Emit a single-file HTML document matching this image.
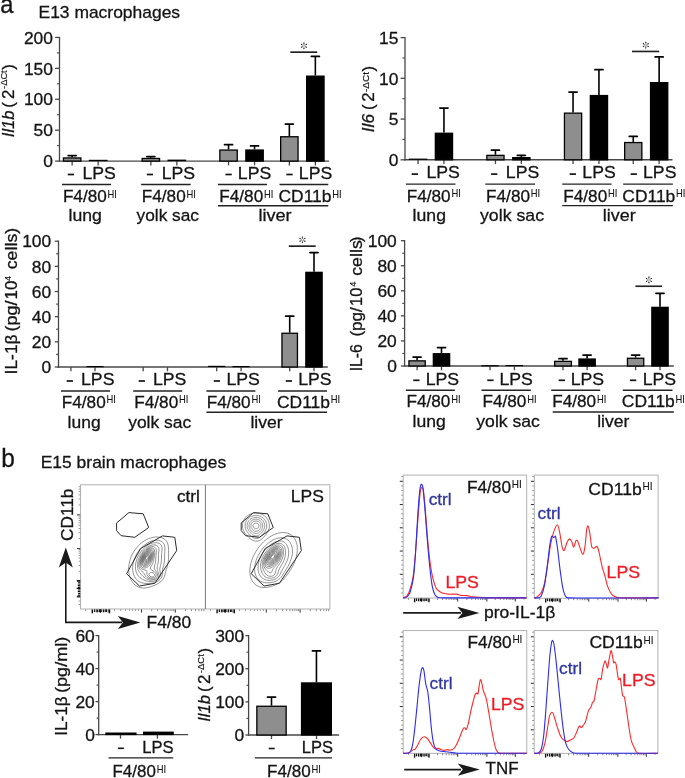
<!DOCTYPE html>
<html><head><meta charset="utf-8"><title>figure</title>
<style>
html,body{margin:0;padding:0;background:#fff;}
body{width:685px;height:778px;overflow:hidden;}
svg{display:block;font-family:"Liberation Sans",sans-serif;}
</style></head><body>
<svg width="685" height="778" viewBox="0 0 685 778">
<defs><filter id="ga" filterUnits="userSpaceOnUse" x="0" y="0" width="685" height="778"><feOffset dx="0" dy="0"/></filter></defs>
<rect x="0" y="0" width="685" height="778" fill="#ffffff"/>
<g filter="url(#ga)">

<text x="0.3" y="13.3" font-size="25" textLength="13.2" lengthAdjust="spacingAndGlyphs" fill="#141414" stroke="#141414" stroke-width="0.3">a</text>
<text x="38.5" y="17.5" font-size="17" textLength="141.6" lengthAdjust="spacingAndGlyphs" fill="#141414" stroke="#141414" stroke-width="0.3">E13 macrophages</text>
<line x1="58.85" y1="161.1" x2="329.0" y2="161.1" stroke="#484848" stroke-width="1.4" stroke-linecap="butt"/>
<line x1="59.5" y1="36.800000000000004" x2="59.5" y2="161.75" stroke="#484848" stroke-width="1.3" stroke-linecap="butt"/>
<line x1="55.1" y1="161.1" x2="59.5" y2="161.1" stroke="#484848" stroke-width="1.3" stroke-linecap="butt"/>
<text x="52.9" y="167.29999999999998" font-size="17.4" text-anchor="end" fill="#141414" stroke="#141414" stroke-width="0.3">0</text>
<line x1="56.9" y1="145.64374999999998" x2="59.5" y2="145.64374999999998" stroke="#484848" stroke-width="1.1" stroke-linecap="butt"/>
<line x1="55.1" y1="130.1875" x2="59.5" y2="130.1875" stroke="#484848" stroke-width="1.3" stroke-linecap="butt"/>
<text x="52.9" y="136.3875" font-size="17.4" text-anchor="end" fill="#141414" stroke="#141414" stroke-width="0.3">50</text>
<line x1="56.9" y1="114.73125" x2="59.5" y2="114.73125" stroke="#484848" stroke-width="1.1" stroke-linecap="butt"/>
<line x1="55.1" y1="99.275" x2="59.5" y2="99.275" stroke="#484848" stroke-width="1.3" stroke-linecap="butt"/>
<text x="52.9" y="105.47500000000001" font-size="17.4" text-anchor="end" fill="#141414" stroke="#141414" stroke-width="0.3">100</text>
<line x1="56.9" y1="83.81875000000001" x2="59.5" y2="83.81875000000001" stroke="#484848" stroke-width="1.1" stroke-linecap="butt"/>
<line x1="55.1" y1="68.3625" x2="59.5" y2="68.3625" stroke="#484848" stroke-width="1.3" stroke-linecap="butt"/>
<text x="52.9" y="74.5625" font-size="17.4" text-anchor="end" fill="#141414" stroke="#141414" stroke-width="0.3">150</text>
<line x1="56.9" y1="52.90625" x2="59.5" y2="52.90625" stroke="#484848" stroke-width="1.1" stroke-linecap="butt"/>
<line x1="55.1" y1="37.45" x2="59.5" y2="37.45" stroke="#484848" stroke-width="1.3" stroke-linecap="butt"/>
<text x="52.9" y="43.650000000000006" font-size="17.4" text-anchor="end" fill="#141414" stroke="#141414" stroke-width="0.3">200</text>
<line x1="72.14999999999999" y1="161.1" x2="72.14999999999999" y2="165.4" stroke="#484848" stroke-width="1.3" stroke-linecap="butt"/>
<line x1="72.15" y1="157.3" x2="72.15" y2="155.6" stroke="#000" stroke-width="1.6" stroke-linecap="butt"/>
<line x1="68.15" y1="155.6" x2="76.15" y2="155.6" stroke="#000" stroke-width="1.75" stroke-linecap="round"/>
<rect x="63.45" y="157.95" width="17.40" height="3.15" fill="#8e8e8e" stroke="#000" stroke-width="1.3"/>
<line x1="98.14999999999999" y1="161.1" x2="98.14999999999999" y2="165.4" stroke="#484848" stroke-width="1.3" stroke-linecap="butt"/>
<rect x="88.80" y="159.80" width="18.70" height="1.30" fill="#000"/>
<line x1="150.85" y1="161.1" x2="150.85" y2="165.4" stroke="#484848" stroke-width="1.3" stroke-linecap="butt"/>
<line x1="150.85" y1="157.8" x2="150.85" y2="156.6" stroke="#000" stroke-width="1.6" stroke-linecap="butt"/>
<line x1="146.85" y1="156.6" x2="154.85" y2="156.6" stroke="#000" stroke-width="1.75" stroke-linecap="round"/>
<rect x="142.15" y="158.45" width="17.40" height="2.65" fill="#8e8e8e" stroke="#000" stroke-width="1.3"/>
<line x1="176.85" y1="161.1" x2="176.85" y2="165.4" stroke="#484848" stroke-width="1.3" stroke-linecap="butt"/>
<rect x="167.50" y="159.60" width="18.70" height="1.50" fill="#000"/>
<line x1="228.54999999999998" y1="161.1" x2="228.54999999999998" y2="165.4" stroke="#484848" stroke-width="1.3" stroke-linecap="butt"/>
<line x1="228.54999999999998" y1="149.4" x2="228.54999999999998" y2="144.7" stroke="#000" stroke-width="1.6" stroke-linecap="butt"/>
<line x1="224.54999999999998" y1="144.7" x2="232.54999999999998" y2="144.7" stroke="#000" stroke-width="1.75" stroke-linecap="round"/>
<rect x="219.85" y="150.05" width="17.40" height="11.05" fill="#8e8e8e" stroke="#000" stroke-width="1.3"/>
<line x1="254.54999999999998" y1="161.1" x2="254.54999999999998" y2="165.4" stroke="#484848" stroke-width="1.3" stroke-linecap="butt"/>
<line x1="254.54999999999998" y1="149.4" x2="254.54999999999998" y2="145.9" stroke="#000" stroke-width="1.6" stroke-linecap="butt"/>
<line x1="250.54999999999998" y1="145.9" x2="258.54999999999995" y2="145.9" stroke="#000" stroke-width="1.75" stroke-linecap="round"/>
<rect x="245.85" y="150.05" width="17.40" height="11.05" fill="#000" stroke="#000" stroke-width="1.3"/>
<line x1="289.35" y1="161.1" x2="289.35" y2="165.4" stroke="#484848" stroke-width="1.3" stroke-linecap="butt"/>
<line x1="289.35" y1="136.1" x2="289.35" y2="124.1" stroke="#000" stroke-width="1.6" stroke-linecap="butt"/>
<line x1="285.35" y1="124.1" x2="293.35" y2="124.1" stroke="#000" stroke-width="1.75" stroke-linecap="round"/>
<rect x="280.65" y="136.75" width="17.40" height="24.35" fill="#8e8e8e" stroke="#000" stroke-width="1.3"/>
<line x1="315.35" y1="161.1" x2="315.35" y2="165.4" stroke="#484848" stroke-width="1.3" stroke-linecap="butt"/>
<line x1="315.35" y1="75.5" x2="315.35" y2="56.4" stroke="#000" stroke-width="1.6" stroke-linecap="butt"/>
<line x1="311.35" y1="56.4" x2="319.35" y2="56.4" stroke="#000" stroke-width="1.75" stroke-linecap="round"/>
<rect x="306.65" y="76.15" width="17.40" height="84.95" fill="#000" stroke="#000" stroke-width="1.3"/>
<line x1="290.3" y1="52.15" x2="317.2" y2="52.15" stroke="#222" stroke-width="1.65" stroke-linecap="butt"/>
<line x1="303.95" y1="45.10" x2="303.95" y2="42.50" stroke="#222" stroke-width="0.55" stroke-linecap="butt"/>
<circle cx="303.95" cy="43.05" r="0.62" fill="#222"/>
<line x1="303.34" y1="45.45" x2="301.09" y2="44.15" stroke="#222" stroke-width="0.55" stroke-linecap="butt"/>
<circle cx="301.57" cy="44.42" r="0.62" fill="#222"/>
<line x1="303.34" y1="46.15" x2="301.09" y2="47.45" stroke="#222" stroke-width="0.55" stroke-linecap="butt"/>
<circle cx="301.57" cy="47.17" r="0.62" fill="#222"/>
<line x1="303.95" y1="46.50" x2="303.95" y2="49.10" stroke="#222" stroke-width="0.55" stroke-linecap="butt"/>
<circle cx="303.95" cy="48.55" r="0.62" fill="#222"/>
<line x1="304.56" y1="46.15" x2="306.81" y2="47.45" stroke="#222" stroke-width="0.55" stroke-linecap="butt"/>
<circle cx="306.33" cy="47.17" r="0.62" fill="#222"/>
<line x1="304.56" y1="45.45" x2="306.81" y2="44.15" stroke="#222" stroke-width="0.55" stroke-linecap="butt"/>
<circle cx="306.33" cy="44.42" r="0.62" fill="#222"/>
<line x1="67.75" y1="174.5" x2="74.05000000000001" y2="174.5" stroke="#141414" stroke-width="1.7" stroke-linecap="butt"/>
<line x1="146.79999999999998" y1="174.5" x2="153.1" y2="174.5" stroke="#141414" stroke-width="1.7" stroke-linecap="butt"/>
<line x1="225.45" y1="174.5" x2="231.75" y2="174.5" stroke="#141414" stroke-width="1.7" stroke-linecap="butt"/>
<line x1="286.35" y1="174.5" x2="292.65" y2="174.5" stroke="#141414" stroke-width="1.7" stroke-linecap="butt"/>
<text x="99.2" y="178.8" font-size="17.4" text-anchor="middle" textLength="33.4" lengthAdjust="spacingAndGlyphs" fill="#141414" stroke="#141414" stroke-width="0.3">LPS</text>
<text x="178.35" y="178.8" font-size="17.4" text-anchor="middle" textLength="33.4" lengthAdjust="spacingAndGlyphs" fill="#141414" stroke="#141414" stroke-width="0.3">LPS</text>
<text x="254.55" y="178.8" font-size="17.4" text-anchor="middle" textLength="33.4" lengthAdjust="spacingAndGlyphs" fill="#141414" stroke="#141414" stroke-width="0.3">LPS</text>
<text x="315.55" y="178.8" font-size="17.4" text-anchor="middle" textLength="33.4" lengthAdjust="spacingAndGlyphs" fill="#141414" stroke="#141414" stroke-width="0.3">LPS</text>
<line x1="62.0" y1="184.4" x2="111.1" y2="184.4" stroke="#222" stroke-width="1.45" stroke-linecap="butt"/>
<line x1="141.1" y1="184.4" x2="190.7" y2="184.4" stroke="#222" stroke-width="1.45" stroke-linecap="butt"/>
<line x1="218.0" y1="184.4" x2="267.0" y2="184.4" stroke="#222" stroke-width="1.45" stroke-linecap="butt"/>
<line x1="279.5" y1="184.4" x2="328.3" y2="184.4" stroke="#222" stroke-width="1.45" stroke-linecap="butt"/>
<text x="62.9" y="202.0" font-size="17.3" textLength="43.900000000000006" lengthAdjust="spacingAndGlyphs" fill="#141414" stroke="#141414" stroke-width="0.3">F4/80</text>
<text x="107.60000000000001" y="197.6" font-size="10.3" textLength="9.4" lengthAdjust="spacingAndGlyphs" fill="#141414" stroke="#141414" stroke-width="0.1">HI</text>
<text x="141.8" y="202.0" font-size="17.3" textLength="43.900000000000006" lengthAdjust="spacingAndGlyphs" fill="#141414" stroke="#141414" stroke-width="0.3">F4/80</text>
<text x="186.50000000000003" y="197.6" font-size="10.3" textLength="9.4" lengthAdjust="spacingAndGlyphs" fill="#141414" stroke="#141414" stroke-width="0.1">HI</text>
<text x="219.3" y="202.0" font-size="17.3" textLength="43.900000000000006" lengthAdjust="spacingAndGlyphs" fill="#141414" stroke="#141414" stroke-width="0.3">F4/80</text>
<text x="264.00000000000006" y="197.6" font-size="10.3" textLength="9.4" lengthAdjust="spacingAndGlyphs" fill="#141414" stroke="#141414" stroke-width="0.1">HI</text>
<text x="278.5" y="202.0" font-size="17.3" textLength="53.0" lengthAdjust="spacingAndGlyphs" fill="#141414" stroke="#141414" stroke-width="0.3">CD11b</text>
<text x="332.3" y="197.6" font-size="10.3" textLength="9.4" lengthAdjust="spacingAndGlyphs" fill="#141414" stroke="#141414" stroke-width="0.1">HI</text>
<line x1="218.0" y1="205.7" x2="328.3" y2="205.7" stroke="#222" stroke-width="1.45" stroke-linecap="butt"/>
<text x="68.5" y="221.4" font-size="17.2" textLength="33.4" lengthAdjust="spacingAndGlyphs" fill="#141414" stroke="#141414" stroke-width="0.3">lung</text>
<text x="136.6" y="221.4" font-size="17.2" textLength="62.4" lengthAdjust="spacingAndGlyphs" fill="#141414" stroke="#141414" stroke-width="0.3">yolk sac</text>
<text x="258.4" y="221.4" font-size="17.2" textLength="33.2" lengthAdjust="spacingAndGlyphs" fill="#141414" stroke="#141414" stroke-width="0.3">liver</text>
<text transform="translate(13.6,137.2) rotate(-90)" font-size="16.8" textLength="26.8" lengthAdjust="spacingAndGlyphs" font-style="italic" fill="#141414" stroke="#141414" stroke-width="0.3">Il1b</text>
<text transform="translate(13.6,107.8) rotate(-90)" font-size="16.8" fill="#141414" stroke="#141414" stroke-width="0.3">(</text>
<text transform="translate(13.6,99.1) rotate(-90)" font-size="16.8" fill="#141414" stroke="#141414" stroke-width="0.3">2</text>
<text transform="translate(7.0,88.9) rotate(-90)" font-size="8.3" textLength="18.6" lengthAdjust="spacingAndGlyphs" fill="#141414" stroke="#141414" stroke-width="0.15">-ΔCt</text>
<text transform="translate(13.6,69.8) rotate(-90)" font-size="16.8" fill="#141414" stroke="#141414" stroke-width="0.3">)</text>
<line x1="404.35" y1="159.8" x2="672.5" y2="159.8" stroke="#484848" stroke-width="1.4" stroke-linecap="butt"/>
<line x1="405.0" y1="36.95" x2="405.0" y2="160.45000000000002" stroke="#484848" stroke-width="1.3" stroke-linecap="butt"/>
<line x1="400.6" y1="159.8" x2="405.0" y2="159.8" stroke="#484848" stroke-width="1.3" stroke-linecap="butt"/>
<text x="398.4" y="166.0" font-size="17.4" text-anchor="end" fill="#141414" stroke="#141414" stroke-width="0.3">0</text>
<line x1="402.4" y1="139.43333333333334" x2="405.0" y2="139.43333333333334" stroke="#484848" stroke-width="1.1" stroke-linecap="butt"/>
<line x1="400.6" y1="119.06666666666666" x2="405.0" y2="119.06666666666666" stroke="#484848" stroke-width="1.3" stroke-linecap="butt"/>
<text x="398.4" y="125.26666666666667" font-size="17.4" text-anchor="end" fill="#141414" stroke="#141414" stroke-width="0.3">5</text>
<line x1="402.4" y1="98.69999999999999" x2="405.0" y2="98.69999999999999" stroke="#484848" stroke-width="1.1" stroke-linecap="butt"/>
<line x1="400.6" y1="78.33333333333333" x2="405.0" y2="78.33333333333333" stroke="#484848" stroke-width="1.3" stroke-linecap="butt"/>
<text x="398.4" y="84.53333333333333" font-size="17.4" text-anchor="end" fill="#141414" stroke="#141414" stroke-width="0.3">10</text>
<line x1="402.4" y1="57.966666666666654" x2="405.0" y2="57.966666666666654" stroke="#484848" stroke-width="1.1" stroke-linecap="butt"/>
<line x1="400.6" y1="37.599999999999994" x2="405.0" y2="37.599999999999994" stroke="#484848" stroke-width="1.3" stroke-linecap="butt"/>
<text x="398.4" y="43.8" font-size="17.4" text-anchor="end" fill="#141414" stroke="#141414" stroke-width="0.3">15</text>
<line x1="418.05" y1="159.8" x2="418.05" y2="164.10000000000002" stroke="#484848" stroke-width="1.3" stroke-linecap="butt"/>
<rect x="408.80" y="158.60" width="18.50" height="1.20" fill="#000"/>
<line x1="443.95" y1="159.8" x2="443.95" y2="164.10000000000002" stroke="#484848" stroke-width="1.3" stroke-linecap="butt"/>
<line x1="443.95" y1="132.6" x2="443.95" y2="108.0" stroke="#000" stroke-width="1.6" stroke-linecap="butt"/>
<line x1="439.95" y1="108.0" x2="447.95" y2="108.0" stroke="#000" stroke-width="1.75" stroke-linecap="round"/>
<rect x="435.35" y="133.25" width="17.20" height="26.55" fill="#000" stroke="#000" stroke-width="1.3"/>
<line x1="495.45" y1="159.8" x2="495.45" y2="164.10000000000002" stroke="#484848" stroke-width="1.3" stroke-linecap="butt"/>
<line x1="495.45" y1="154.7" x2="495.45" y2="150.2" stroke="#000" stroke-width="1.6" stroke-linecap="butt"/>
<line x1="491.45" y1="150.2" x2="499.45" y2="150.2" stroke="#000" stroke-width="1.75" stroke-linecap="round"/>
<rect x="486.85" y="155.35" width="17.20" height="4.45" fill="#8e8e8e" stroke="#000" stroke-width="1.3"/>
<line x1="521.35" y1="159.8" x2="521.35" y2="164.10000000000002" stroke="#484848" stroke-width="1.3" stroke-linecap="butt"/>
<line x1="521.35" y1="157.0" x2="521.35" y2="155.4" stroke="#000" stroke-width="1.6" stroke-linecap="butt"/>
<line x1="517.35" y1="155.4" x2="525.35" y2="155.4" stroke="#000" stroke-width="1.75" stroke-linecap="round"/>
<rect x="512.75" y="157.65" width="17.20" height="2.15" fill="#000" stroke="#000" stroke-width="1.3"/>
<line x1="573.05" y1="159.8" x2="573.05" y2="164.10000000000002" stroke="#484848" stroke-width="1.3" stroke-linecap="butt"/>
<line x1="573.05" y1="112.5" x2="573.05" y2="92.1" stroke="#000" stroke-width="1.6" stroke-linecap="butt"/>
<line x1="569.05" y1="92.1" x2="577.05" y2="92.1" stroke="#000" stroke-width="1.75" stroke-linecap="round"/>
<rect x="564.45" y="113.15" width="17.20" height="46.65" fill="#8e8e8e" stroke="#000" stroke-width="1.3"/>
<line x1="598.9499999999999" y1="159.8" x2="598.9499999999999" y2="164.10000000000002" stroke="#484848" stroke-width="1.3" stroke-linecap="butt"/>
<line x1="598.9499999999999" y1="94.9" x2="598.9499999999999" y2="69.7" stroke="#000" stroke-width="1.6" stroke-linecap="butt"/>
<line x1="594.9499999999999" y1="69.7" x2="602.9499999999999" y2="69.7" stroke="#000" stroke-width="1.75" stroke-linecap="round"/>
<rect x="590.35" y="95.55" width="17.20" height="64.25" fill="#000" stroke="#000" stroke-width="1.3"/>
<line x1="633.25" y1="159.8" x2="633.25" y2="164.10000000000002" stroke="#484848" stroke-width="1.3" stroke-linecap="butt"/>
<line x1="633.25" y1="141.9" x2="633.25" y2="136.4" stroke="#000" stroke-width="1.6" stroke-linecap="butt"/>
<line x1="629.25" y1="136.4" x2="637.25" y2="136.4" stroke="#000" stroke-width="1.75" stroke-linecap="round"/>
<rect x="624.65" y="142.55" width="17.20" height="17.25" fill="#8e8e8e" stroke="#000" stroke-width="1.3"/>
<line x1="659.15" y1="159.8" x2="659.15" y2="164.10000000000002" stroke="#484848" stroke-width="1.3" stroke-linecap="butt"/>
<line x1="659.15" y1="82.0" x2="659.15" y2="56.9" stroke="#000" stroke-width="1.6" stroke-linecap="butt"/>
<line x1="655.15" y1="56.9" x2="663.15" y2="56.9" stroke="#000" stroke-width="1.75" stroke-linecap="round"/>
<rect x="650.55" y="82.65" width="17.20" height="77.15" fill="#000" stroke="#000" stroke-width="1.3"/>
<line x1="632.0" y1="51.45" x2="659.2" y2="51.45" stroke="#222" stroke-width="1.65" stroke-linecap="butt"/>
<line x1="645.80" y1="44.40" x2="645.80" y2="41.80" stroke="#222" stroke-width="0.55" stroke-linecap="butt"/>
<circle cx="645.80" cy="42.35" r="0.62" fill="#222"/>
<line x1="645.19" y1="44.75" x2="642.94" y2="43.45" stroke="#222" stroke-width="0.55" stroke-linecap="butt"/>
<circle cx="643.42" cy="43.73" r="0.62" fill="#222"/>
<line x1="645.19" y1="45.45" x2="642.94" y2="46.75" stroke="#222" stroke-width="0.55" stroke-linecap="butt"/>
<circle cx="643.42" cy="46.48" r="0.62" fill="#222"/>
<line x1="645.80" y1="45.80" x2="645.80" y2="48.40" stroke="#222" stroke-width="0.55" stroke-linecap="butt"/>
<circle cx="645.80" cy="47.85" r="0.62" fill="#222"/>
<line x1="646.41" y1="45.45" x2="648.66" y2="46.75" stroke="#222" stroke-width="0.55" stroke-linecap="butt"/>
<circle cx="648.18" cy="46.48" r="0.62" fill="#222"/>
<line x1="646.41" y1="44.75" x2="648.66" y2="43.45" stroke="#222" stroke-width="0.55" stroke-linecap="butt"/>
<circle cx="648.18" cy="43.73" r="0.62" fill="#222"/>
<line x1="411.65000000000003" y1="174.1" x2="417.95" y2="174.1" stroke="#141414" stroke-width="1.7" stroke-linecap="butt"/>
<line x1="491.05" y1="174.1" x2="497.34999999999997" y2="174.1" stroke="#141414" stroke-width="1.7" stroke-linecap="butt"/>
<line x1="569.65" y1="174.1" x2="575.9499999999999" y2="174.1" stroke="#141414" stroke-width="1.7" stroke-linecap="butt"/>
<line x1="630.65" y1="174.1" x2="636.9499999999999" y2="174.1" stroke="#141414" stroke-width="1.7" stroke-linecap="butt"/>
<text x="443.15" y="178.4" font-size="17.4" text-anchor="middle" textLength="33.4" lengthAdjust="spacingAndGlyphs" fill="#141414" stroke="#141414" stroke-width="0.3">LPS</text>
<text x="522.55" y="178.4" font-size="17.4" text-anchor="middle" textLength="33.4" lengthAdjust="spacingAndGlyphs" fill="#141414" stroke="#141414" stroke-width="0.3">LPS</text>
<text x="599.05" y="178.4" font-size="17.4" text-anchor="middle" textLength="33.4" lengthAdjust="spacingAndGlyphs" fill="#141414" stroke="#141414" stroke-width="0.3">LPS</text>
<text x="659.75" y="178.4" font-size="17.4" text-anchor="middle" textLength="33.4" lengthAdjust="spacingAndGlyphs" fill="#141414" stroke="#141414" stroke-width="0.3">LPS</text>
<line x1="405.9" y1="184.1" x2="455.5" y2="184.1" stroke="#222" stroke-width="1.45" stroke-linecap="butt"/>
<line x1="485.3" y1="184.1" x2="535.0" y2="184.1" stroke="#222" stroke-width="1.45" stroke-linecap="butt"/>
<line x1="562.2" y1="184.1" x2="611.5" y2="184.1" stroke="#222" stroke-width="1.45" stroke-linecap="butt"/>
<line x1="623.2" y1="184.1" x2="672.9" y2="184.1" stroke="#222" stroke-width="1.45" stroke-linecap="butt"/>
<text x="406.7" y="201.6" font-size="17.3" textLength="43.900000000000006" lengthAdjust="spacingAndGlyphs" fill="#141414" stroke="#141414" stroke-width="0.3">F4/80</text>
<text x="451.40000000000003" y="197.2" font-size="10.3" textLength="9.4" lengthAdjust="spacingAndGlyphs" fill="#141414" stroke="#141414" stroke-width="0.1">HI</text>
<text x="486.1" y="201.6" font-size="17.3" textLength="43.900000000000006" lengthAdjust="spacingAndGlyphs" fill="#141414" stroke="#141414" stroke-width="0.3">F4/80</text>
<text x="530.8" y="197.2" font-size="10.3" textLength="9.4" lengthAdjust="spacingAndGlyphs" fill="#141414" stroke="#141414" stroke-width="0.1">HI</text>
<text x="563.3" y="201.6" font-size="17.3" textLength="43.900000000000006" lengthAdjust="spacingAndGlyphs" fill="#141414" stroke="#141414" stroke-width="0.3">F4/80</text>
<text x="607.9999999999999" y="197.2" font-size="10.3" textLength="9.4" lengthAdjust="spacingAndGlyphs" fill="#141414" stroke="#141414" stroke-width="0.1">HI</text>
<text x="622.3" y="201.6" font-size="17.3" textLength="53.0" lengthAdjust="spacingAndGlyphs" fill="#141414" stroke="#141414" stroke-width="0.3">CD11b</text>
<text x="676.0999999999999" y="197.2" font-size="10.3" textLength="9.4" lengthAdjust="spacingAndGlyphs" fill="#141414" stroke="#141414" stroke-width="0.1">HI</text>
<line x1="562.2" y1="205.6" x2="672.9" y2="205.6" stroke="#222" stroke-width="1.45" stroke-linecap="butt"/>
<text x="412.6" y="221.0" font-size="17.2" textLength="33.4" lengthAdjust="spacingAndGlyphs" fill="#141414" stroke="#141414" stroke-width="0.3">lung</text>
<text x="480.0" y="221.0" font-size="17.2" textLength="64.0" lengthAdjust="spacingAndGlyphs" fill="#141414" stroke="#141414" stroke-width="0.3">yolk sac</text>
<text x="602.8" y="221.0" font-size="17.2" textLength="32.8" lengthAdjust="spacingAndGlyphs" fill="#141414" stroke="#141414" stroke-width="0.3">liver</text>
<text transform="translate(373.9,132.2) rotate(-90)" font-size="16.8" textLength="18.2" lengthAdjust="spacingAndGlyphs" font-style="italic" fill="#141414" stroke="#141414" stroke-width="0.3">Il6</text>
<text transform="translate(373.9,109.9) rotate(-90)" font-size="16.8" fill="#141414" stroke="#141414" stroke-width="0.3">(</text>
<text transform="translate(373.9,101.8) rotate(-90)" font-size="16.8" fill="#141414" stroke="#141414" stroke-width="0.3">2</text>
<text transform="translate(368.6,92.0) rotate(-90)" font-size="8.5" textLength="20.0" lengthAdjust="spacingAndGlyphs" fill="#141414" stroke="#141414" stroke-width="0.15">-ΔCt</text>
<text transform="translate(373.9,71.4) rotate(-90)" font-size="16.8" fill="#141414" stroke="#141414" stroke-width="0.3">)</text>
<line x1="57.85" y1="367.0" x2="327.8" y2="367.0" stroke="#484848" stroke-width="1.4" stroke-linecap="butt"/>
<line x1="58.5" y1="240.54999999999998" x2="58.5" y2="367.65" stroke="#484848" stroke-width="1.3" stroke-linecap="butt"/>
<line x1="54.8" y1="367.0" x2="58.5" y2="367.0" stroke="#484848" stroke-width="1.3" stroke-linecap="butt"/>
<text x="51.2" y="373.2" font-size="17.4" text-anchor="end" fill="#141414" stroke="#141414" stroke-width="0.3">0</text>
<line x1="56.1" y1="354.42" x2="58.5" y2="354.42" stroke="#484848" stroke-width="1.1" stroke-linecap="butt"/>
<line x1="54.8" y1="341.84" x2="58.5" y2="341.84" stroke="#484848" stroke-width="1.3" stroke-linecap="butt"/>
<text x="51.2" y="348.03999999999996" font-size="17.4" text-anchor="end" fill="#141414" stroke="#141414" stroke-width="0.3">20</text>
<line x1="56.1" y1="329.26" x2="58.5" y2="329.26" stroke="#484848" stroke-width="1.1" stroke-linecap="butt"/>
<line x1="54.8" y1="316.68" x2="58.5" y2="316.68" stroke="#484848" stroke-width="1.3" stroke-linecap="butt"/>
<text x="51.2" y="322.88" font-size="17.4" text-anchor="end" fill="#141414" stroke="#141414" stroke-width="0.3">40</text>
<line x1="56.1" y1="304.1" x2="58.5" y2="304.1" stroke="#484848" stroke-width="1.1" stroke-linecap="butt"/>
<line x1="54.8" y1="291.52" x2="58.5" y2="291.52" stroke="#484848" stroke-width="1.3" stroke-linecap="butt"/>
<text x="51.2" y="297.71999999999997" font-size="17.4" text-anchor="end" fill="#141414" stroke="#141414" stroke-width="0.3">60</text>
<line x1="56.1" y1="278.94" x2="58.5" y2="278.94" stroke="#484848" stroke-width="1.1" stroke-linecap="butt"/>
<line x1="54.8" y1="266.36" x2="58.5" y2="266.36" stroke="#484848" stroke-width="1.3" stroke-linecap="butt"/>
<text x="51.2" y="272.56" font-size="17.4" text-anchor="end" fill="#141414" stroke="#141414" stroke-width="0.3">80</text>
<line x1="56.1" y1="253.78" x2="58.5" y2="253.78" stroke="#484848" stroke-width="1.1" stroke-linecap="butt"/>
<line x1="54.8" y1="241.2" x2="58.5" y2="241.2" stroke="#484848" stroke-width="1.3" stroke-linecap="butt"/>
<text x="51.2" y="247.39999999999998" font-size="17.4" text-anchor="end" fill="#141414" stroke="#141414" stroke-width="0.3">100</text>
<line x1="70.9" y1="367.0" x2="70.9" y2="371.3" stroke="#484848" stroke-width="1.3" stroke-linecap="butt"/>
<line x1="95.0" y1="367.0" x2="95.0" y2="371.3" stroke="#484848" stroke-width="1.3" stroke-linecap="butt"/>
<line x1="143.2" y1="367.0" x2="143.2" y2="371.3" stroke="#484848" stroke-width="1.3" stroke-linecap="butt"/>
<line x1="167.5" y1="367.0" x2="167.5" y2="371.3" stroke="#484848" stroke-width="1.3" stroke-linecap="butt"/>
<line x1="216.7" y1="367.0" x2="216.7" y2="371.3" stroke="#484848" stroke-width="1.3" stroke-linecap="butt"/>
<line x1="241.1" y1="367.0" x2="241.1" y2="371.3" stroke="#484848" stroke-width="1.3" stroke-linecap="butt"/>
<line x1="289.7" y1="367.0" x2="289.7" y2="371.3" stroke="#484848" stroke-width="1.3" stroke-linecap="butt"/>
<line x1="314.0" y1="367.0" x2="314.0" y2="371.3" stroke="#484848" stroke-width="1.3" stroke-linecap="butt"/>
<rect x="86.40" y="366.00" width="17.20" height="1.20" fill="#000"/>
<rect x="208.10" y="365.80" width="17.20" height="1.20" fill="#000"/>
<rect x="232.50" y="366.00" width="17.20" height="1.20" fill="#000"/>
<line x1="289.70000000000005" y1="332.6" x2="289.70000000000005" y2="316.2" stroke="#000" stroke-width="1.6" stroke-linecap="butt"/>
<line x1="285.70000000000005" y1="316.2" x2="293.70000000000005" y2="316.2" stroke="#000" stroke-width="1.75" stroke-linecap="round"/>
<rect x="281.95" y="333.25" width="15.50" height="33.75" fill="#8e8e8e" stroke="#000" stroke-width="1.3"/>
<line x1="314.0" y1="271.7" x2="314.0" y2="252.6" stroke="#000" stroke-width="1.6" stroke-linecap="butt"/>
<line x1="310.0" y1="252.6" x2="318.0" y2="252.6" stroke="#000" stroke-width="1.75" stroke-linecap="round"/>
<rect x="305.85" y="272.35" width="16.30" height="94.65" fill="#000" stroke="#000" stroke-width="1.3"/>
<line x1="288.8" y1="246.15" x2="315.7" y2="246.15" stroke="#222" stroke-width="1.65" stroke-linecap="butt"/>
<line x1="302.45" y1="239.10" x2="302.45" y2="236.50" stroke="#222" stroke-width="0.55" stroke-linecap="butt"/>
<circle cx="302.45" cy="237.05" r="0.62" fill="#222"/>
<line x1="301.84" y1="239.45" x2="299.59" y2="238.15" stroke="#222" stroke-width="0.55" stroke-linecap="butt"/>
<circle cx="300.07" cy="238.43" r="0.62" fill="#222"/>
<line x1="301.84" y1="240.15" x2="299.59" y2="241.45" stroke="#222" stroke-width="0.55" stroke-linecap="butt"/>
<circle cx="300.07" cy="241.18" r="0.62" fill="#222"/>
<line x1="302.45" y1="240.50" x2="302.45" y2="243.10" stroke="#222" stroke-width="0.55" stroke-linecap="butt"/>
<circle cx="302.45" cy="242.55" r="0.62" fill="#222"/>
<line x1="303.06" y1="240.15" x2="305.31" y2="241.45" stroke="#222" stroke-width="0.55" stroke-linecap="butt"/>
<circle cx="304.83" cy="241.18" r="0.62" fill="#222"/>
<line x1="303.06" y1="239.45" x2="305.31" y2="238.15" stroke="#222" stroke-width="0.55" stroke-linecap="butt"/>
<circle cx="304.83" cy="238.43" r="0.62" fill="#222"/>
<line x1="66.64999999999999" y1="381.0" x2="72.95" y2="381.0" stroke="#141414" stroke-width="1.7" stroke-linecap="butt"/>
<line x1="138.65" y1="381.0" x2="144.95000000000002" y2="381.0" stroke="#141414" stroke-width="1.7" stroke-linecap="butt"/>
<line x1="213.75" y1="381.0" x2="220.05" y2="381.0" stroke="#141414" stroke-width="1.7" stroke-linecap="butt"/>
<line x1="285.75" y1="381.0" x2="292.04999999999995" y2="381.0" stroke="#141414" stroke-width="1.7" stroke-linecap="butt"/>
<text x="97.72" y="385.3" font-size="17.4" text-anchor="middle" textLength="33.4" lengthAdjust="spacingAndGlyphs" fill="#141414" stroke="#141414" stroke-width="0.3">LPS</text>
<text x="169.65" y="385.3" font-size="17.4" text-anchor="middle" textLength="33.4" lengthAdjust="spacingAndGlyphs" fill="#141414" stroke="#141414" stroke-width="0.3">LPS</text>
<text x="243.15" y="385.3" font-size="17.4" text-anchor="middle" textLength="33.4" lengthAdjust="spacingAndGlyphs" fill="#141414" stroke="#141414" stroke-width="0.3">LPS</text>
<text x="314.95" y="385.3" font-size="17.4" text-anchor="middle" textLength="33.4" lengthAdjust="spacingAndGlyphs" fill="#141414" stroke="#141414" stroke-width="0.3">LPS</text>
<line x1="61.0" y1="391.0" x2="110.0" y2="391.0" stroke="#222" stroke-width="1.45" stroke-linecap="butt"/>
<line x1="133.2" y1="391.0" x2="182.2" y2="391.0" stroke="#222" stroke-width="1.45" stroke-linecap="butt"/>
<line x1="206.4" y1="391.0" x2="255.4" y2="391.0" stroke="#222" stroke-width="1.45" stroke-linecap="butt"/>
<line x1="278.0" y1="391.0" x2="327.0" y2="391.0" stroke="#222" stroke-width="1.45" stroke-linecap="butt"/>
<text x="61.8" y="407.6" font-size="17.3" textLength="43.900000000000006" lengthAdjust="spacingAndGlyphs" fill="#141414" stroke="#141414" stroke-width="0.3">F4/80</text>
<text x="106.5" y="403.20000000000005" font-size="10.3" textLength="9.4" lengthAdjust="spacingAndGlyphs" fill="#141414" stroke="#141414" stroke-width="0.1">HI</text>
<text x="134.3" y="407.6" font-size="17.3" textLength="43.900000000000006" lengthAdjust="spacingAndGlyphs" fill="#141414" stroke="#141414" stroke-width="0.3">F4/80</text>
<text x="179.00000000000003" y="403.20000000000005" font-size="10.3" textLength="9.4" lengthAdjust="spacingAndGlyphs" fill="#141414" stroke="#141414" stroke-width="0.1">HI</text>
<text x="206.7" y="407.6" font-size="17.3" textLength="43.900000000000006" lengthAdjust="spacingAndGlyphs" fill="#141414" stroke="#141414" stroke-width="0.3">F4/80</text>
<text x="251.4" y="403.20000000000005" font-size="10.3" textLength="9.4" lengthAdjust="spacingAndGlyphs" fill="#141414" stroke="#141414" stroke-width="0.1">HI</text>
<text x="277.0" y="407.6" font-size="17.3" textLength="53.0" lengthAdjust="spacingAndGlyphs" fill="#141414" stroke="#141414" stroke-width="0.3">CD11b</text>
<text x="330.8" y="403.20000000000005" font-size="10.3" textLength="9.4" lengthAdjust="spacingAndGlyphs" fill="#141414" stroke="#141414" stroke-width="0.1">HI</text>
<line x1="206.4" y1="412.3" x2="327.0" y2="412.3" stroke="#222" stroke-width="1.45" stroke-linecap="butt"/>
<text x="67.6" y="427.5" font-size="17.2" textLength="33.0" lengthAdjust="spacingAndGlyphs" fill="#141414" stroke="#141414" stroke-width="0.3">lung</text>
<text x="128.2" y="427.5" font-size="17.2" textLength="63.0" lengthAdjust="spacingAndGlyphs" fill="#141414" stroke="#141414" stroke-width="0.3">yolk sac</text>
<text x="250.4" y="427.5" font-size="17.2" textLength="32.2" lengthAdjust="spacingAndGlyphs" fill="#141414" stroke="#141414" stroke-width="0.3">liver</text>
<text transform="translate(17.0,374.4) rotate(-90)" font-size="16.5" textLength="40.0" lengthAdjust="spacingAndGlyphs" fill="#141414" stroke="#141414" stroke-width="0.3">IL-1β</text>
<text transform="translate(17.0,331.6) rotate(-90)" font-size="16.5" textLength="31.0" lengthAdjust="spacingAndGlyphs" fill="#141414" stroke="#141414" stroke-width="0.3">(pg/</text>
<text transform="translate(17.0,299.4) rotate(-90)" font-size="16.5" textLength="18.8" lengthAdjust="spacingAndGlyphs" fill="#141414" stroke="#141414" stroke-width="0.3">10</text>
<text transform="translate(10.5,281.0) rotate(-90)" font-size="9.2" fill="#141414" stroke="#141414" stroke-width="0.15">4</text>
<text transform="translate(17.0,269.3) rotate(-90)" font-size="16.5" textLength="41.6" lengthAdjust="spacingAndGlyphs" fill="#141414" stroke="#141414" stroke-width="0.3">cells)</text>
<line x1="403.95000000000005" y1="366.0" x2="673.8" y2="366.0" stroke="#484848" stroke-width="1.4" stroke-linecap="butt"/>
<line x1="404.6" y1="240.04999999999998" x2="404.6" y2="366.65" stroke="#484848" stroke-width="1.3" stroke-linecap="butt"/>
<line x1="400.90000000000003" y1="366.0" x2="404.6" y2="366.0" stroke="#484848" stroke-width="1.3" stroke-linecap="butt"/>
<text x="396.8" y="372.2" font-size="17.4" text-anchor="end" fill="#141414" stroke="#141414" stroke-width="0.3">0</text>
<line x1="402.20000000000005" y1="353.47" x2="404.6" y2="353.47" stroke="#484848" stroke-width="1.1" stroke-linecap="butt"/>
<line x1="400.90000000000003" y1="340.94" x2="404.6" y2="340.94" stroke="#484848" stroke-width="1.3" stroke-linecap="butt"/>
<text x="396.8" y="347.14" font-size="17.4" text-anchor="end" fill="#141414" stroke="#141414" stroke-width="0.3">20</text>
<line x1="402.20000000000005" y1="328.40999999999997" x2="404.6" y2="328.40999999999997" stroke="#484848" stroke-width="1.1" stroke-linecap="butt"/>
<line x1="400.90000000000003" y1="315.88" x2="404.6" y2="315.88" stroke="#484848" stroke-width="1.3" stroke-linecap="butt"/>
<text x="396.8" y="322.08" font-size="17.4" text-anchor="end" fill="#141414" stroke="#141414" stroke-width="0.3">40</text>
<line x1="402.20000000000005" y1="303.35" x2="404.6" y2="303.35" stroke="#484848" stroke-width="1.1" stroke-linecap="butt"/>
<line x1="400.90000000000003" y1="290.82" x2="404.6" y2="290.82" stroke="#484848" stroke-width="1.3" stroke-linecap="butt"/>
<text x="396.8" y="297.02" font-size="17.4" text-anchor="end" fill="#141414" stroke="#141414" stroke-width="0.3">60</text>
<line x1="402.20000000000005" y1="278.28999999999996" x2="404.6" y2="278.28999999999996" stroke="#484848" stroke-width="1.1" stroke-linecap="butt"/>
<line x1="400.90000000000003" y1="265.76" x2="404.6" y2="265.76" stroke="#484848" stroke-width="1.3" stroke-linecap="butt"/>
<text x="396.8" y="271.96" font-size="17.4" text-anchor="end" fill="#141414" stroke="#141414" stroke-width="0.3">80</text>
<line x1="402.20000000000005" y1="253.23" x2="404.6" y2="253.23" stroke="#484848" stroke-width="1.1" stroke-linecap="butt"/>
<line x1="400.90000000000003" y1="240.7" x2="404.6" y2="240.7" stroke="#484848" stroke-width="1.3" stroke-linecap="butt"/>
<text x="396.8" y="246.89999999999998" font-size="17.4" text-anchor="end" fill="#141414" stroke="#141414" stroke-width="0.3">100</text>
<line x1="417.1" y1="366.0" x2="417.1" y2="370.3" stroke="#484848" stroke-width="1.3" stroke-linecap="butt"/>
<line x1="441.5" y1="366.0" x2="441.5" y2="370.3" stroke="#484848" stroke-width="1.3" stroke-linecap="butt"/>
<line x1="490.0" y1="366.0" x2="490.0" y2="370.3" stroke="#484848" stroke-width="1.3" stroke-linecap="butt"/>
<line x1="514.4" y1="366.0" x2="514.4" y2="370.3" stroke="#484848" stroke-width="1.3" stroke-linecap="butt"/>
<line x1="563.0" y1="366.0" x2="563.0" y2="370.3" stroke="#484848" stroke-width="1.3" stroke-linecap="butt"/>
<line x1="587.1" y1="366.0" x2="587.1" y2="370.3" stroke="#484848" stroke-width="1.3" stroke-linecap="butt"/>
<line x1="635.6" y1="366.0" x2="635.6" y2="370.3" stroke="#484848" stroke-width="1.3" stroke-linecap="butt"/>
<line x1="660.0" y1="366.0" x2="660.0" y2="370.3" stroke="#484848" stroke-width="1.3" stroke-linecap="butt"/>
<line x1="417.1" y1="360.2" x2="417.1" y2="357.1" stroke="#000" stroke-width="1.6" stroke-linecap="butt"/>
<line x1="413.1" y1="357.1" x2="421.1" y2="357.1" stroke="#000" stroke-width="1.75" stroke-linecap="round"/>
<rect x="408.95" y="360.85" width="16.30" height="5.15" fill="#8e8e8e" stroke="#000" stroke-width="1.3"/>
<line x1="441.5" y1="353.1" x2="441.5" y2="347.6" stroke="#000" stroke-width="1.6" stroke-linecap="butt"/>
<line x1="437.5" y1="347.6" x2="445.5" y2="347.6" stroke="#000" stroke-width="1.75" stroke-linecap="round"/>
<rect x="433.35" y="353.75" width="16.30" height="12.25" fill="#000" stroke="#000" stroke-width="1.3"/>
<rect x="481.30" y="365.20" width="17.40" height="1.20" fill="#000"/>
<rect x="505.60" y="365.00" width="17.40" height="1.20" fill="#000"/>
<line x1="563.0" y1="360.7" x2="563.0" y2="358.7" stroke="#000" stroke-width="1.6" stroke-linecap="butt"/>
<line x1="559.0" y1="358.7" x2="567.0" y2="358.7" stroke="#000" stroke-width="1.75" stroke-linecap="round"/>
<rect x="554.65" y="361.35" width="16.70" height="4.65" fill="#8e8e8e" stroke="#000" stroke-width="1.3"/>
<line x1="587.0999999999999" y1="358.4" x2="587.0999999999999" y2="355.1" stroke="#000" stroke-width="1.6" stroke-linecap="butt"/>
<line x1="583.0999999999999" y1="355.1" x2="591.0999999999999" y2="355.1" stroke="#000" stroke-width="1.75" stroke-linecap="round"/>
<rect x="578.95" y="359.05" width="16.30" height="6.95" fill="#000" stroke="#000" stroke-width="1.3"/>
<line x1="635.5999999999999" y1="357.6" x2="635.5999999999999" y2="355.1" stroke="#000" stroke-width="1.6" stroke-linecap="butt"/>
<line x1="631.5999999999999" y1="355.1" x2="639.5999999999999" y2="355.1" stroke="#000" stroke-width="1.75" stroke-linecap="round"/>
<rect x="627.45" y="358.25" width="16.30" height="7.75" fill="#8e8e8e" stroke="#000" stroke-width="1.3"/>
<line x1="660.0" y1="306.7" x2="660.0" y2="293.3" stroke="#000" stroke-width="1.6" stroke-linecap="butt"/>
<line x1="656.0" y1="293.3" x2="664.0" y2="293.3" stroke="#000" stroke-width="1.75" stroke-linecap="round"/>
<rect x="651.85" y="307.35" width="16.30" height="58.65" fill="#000" stroke="#000" stroke-width="1.3"/>
<line x1="635.4" y1="286.25" x2="662.0" y2="286.25" stroke="#222" stroke-width="1.65" stroke-linecap="butt"/>
<line x1="648.90" y1="279.20" x2="648.90" y2="276.60" stroke="#222" stroke-width="0.55" stroke-linecap="butt"/>
<circle cx="648.90" cy="277.15" r="0.62" fill="#222"/>
<line x1="648.29" y1="279.55" x2="646.04" y2="278.25" stroke="#222" stroke-width="0.55" stroke-linecap="butt"/>
<circle cx="646.52" cy="278.52" r="0.62" fill="#222"/>
<line x1="648.29" y1="280.25" x2="646.04" y2="281.55" stroke="#222" stroke-width="0.55" stroke-linecap="butt"/>
<circle cx="646.52" cy="281.27" r="0.62" fill="#222"/>
<line x1="648.90" y1="280.60" x2="648.90" y2="283.20" stroke="#222" stroke-width="0.55" stroke-linecap="butt"/>
<circle cx="648.90" cy="282.65" r="0.62" fill="#222"/>
<line x1="649.51" y1="280.25" x2="651.76" y2="281.55" stroke="#222" stroke-width="0.55" stroke-linecap="butt"/>
<circle cx="651.28" cy="281.27" r="0.62" fill="#222"/>
<line x1="649.51" y1="279.55" x2="651.76" y2="278.25" stroke="#222" stroke-width="0.55" stroke-linecap="butt"/>
<circle cx="651.28" cy="278.52" r="0.62" fill="#222"/>
<line x1="413.25" y1="380.3" x2="419.54999999999995" y2="380.3" stroke="#141414" stroke-width="1.7" stroke-linecap="butt"/>
<line x1="487.25" y1="380.3" x2="493.54999999999995" y2="380.3" stroke="#141414" stroke-width="1.7" stroke-linecap="butt"/>
<line x1="558.65" y1="380.3" x2="564.9499999999999" y2="380.3" stroke="#141414" stroke-width="1.7" stroke-linecap="butt"/>
<line x1="629.95" y1="380.3" x2="636.25" y2="380.3" stroke="#141414" stroke-width="1.7" stroke-linecap="butt"/>
<text x="442.4" y="384.6" font-size="17.4" text-anchor="middle" textLength="33.4" lengthAdjust="spacingAndGlyphs" fill="#141414" stroke="#141414" stroke-width="0.3">LPS</text>
<text x="516.15" y="384.6" font-size="17.4" text-anchor="middle" textLength="33.4" lengthAdjust="spacingAndGlyphs" fill="#141414" stroke="#141414" stroke-width="0.3">LPS</text>
<text x="587.35" y="384.6" font-size="17.4" text-anchor="middle" textLength="33.4" lengthAdjust="spacingAndGlyphs" fill="#141414" stroke="#141414" stroke-width="0.3">LPS</text>
<text x="659.35" y="384.6" font-size="17.4" text-anchor="middle" textLength="33.4" lengthAdjust="spacingAndGlyphs" fill="#141414" stroke="#141414" stroke-width="0.3">LPS</text>
<line x1="405.8" y1="390.3" x2="454.8" y2="390.3" stroke="#222" stroke-width="1.45" stroke-linecap="butt"/>
<line x1="481.5" y1="390.3" x2="530.8" y2="390.3" stroke="#222" stroke-width="1.45" stroke-linecap="butt"/>
<line x1="551.2" y1="390.3" x2="600.2" y2="390.3" stroke="#222" stroke-width="1.45" stroke-linecap="butt"/>
<line x1="622.8" y1="390.3" x2="672.5" y2="390.3" stroke="#222" stroke-width="1.45" stroke-linecap="butt"/>
<text x="406.5" y="407.0" font-size="17.3" textLength="43.900000000000006" lengthAdjust="spacingAndGlyphs" fill="#141414" stroke="#141414" stroke-width="0.3">F4/80</text>
<text x="451.2" y="402.6" font-size="10.3" textLength="9.4" lengthAdjust="spacingAndGlyphs" fill="#141414" stroke="#141414" stroke-width="0.1">HI</text>
<text x="482.5" y="407.0" font-size="17.3" textLength="43.900000000000006" lengthAdjust="spacingAndGlyphs" fill="#141414" stroke="#141414" stroke-width="0.3">F4/80</text>
<text x="527.1999999999999" y="402.6" font-size="10.3" textLength="9.4" lengthAdjust="spacingAndGlyphs" fill="#141414" stroke="#141414" stroke-width="0.1">HI</text>
<text x="552.2" y="407.0" font-size="17.3" textLength="43.900000000000006" lengthAdjust="spacingAndGlyphs" fill="#141414" stroke="#141414" stroke-width="0.3">F4/80</text>
<text x="596.9" y="402.6" font-size="10.3" textLength="9.4" lengthAdjust="spacingAndGlyphs" fill="#141414" stroke="#141414" stroke-width="0.1">HI</text>
<text x="621.8" y="407.0" font-size="17.3" textLength="53.0" lengthAdjust="spacingAndGlyphs" fill="#141414" stroke="#141414" stroke-width="0.3">CD11b</text>
<text x="675.5999999999999" y="402.6" font-size="10.3" textLength="9.4" lengthAdjust="spacingAndGlyphs" fill="#141414" stroke="#141414" stroke-width="0.1">HI</text>
<line x1="552.7" y1="411.9" x2="673.8" y2="411.9" stroke="#222" stroke-width="1.45" stroke-linecap="butt"/>
<text x="412.6" y="427.0" font-size="17.2" textLength="33.2" lengthAdjust="spacingAndGlyphs" fill="#141414" stroke="#141414" stroke-width="0.3">lung</text>
<text x="476.3" y="427.0" font-size="17.2" textLength="63.6" lengthAdjust="spacingAndGlyphs" fill="#141414" stroke="#141414" stroke-width="0.3">yolk sac</text>
<text x="597.2" y="427.0" font-size="17.2" textLength="32.2" lengthAdjust="spacingAndGlyphs" fill="#141414" stroke="#141414" stroke-width="0.3">liver</text>
<text transform="translate(361.6,371.3) rotate(-90)" font-size="16.5" textLength="27.2" lengthAdjust="spacingAndGlyphs" fill="#141414" stroke="#141414" stroke-width="0.3">IL-6</text>
<text transform="translate(361.6,336.6) rotate(-90)" font-size="16.5" textLength="29.4" lengthAdjust="spacingAndGlyphs" fill="#141414" stroke="#141414" stroke-width="0.3">(pg/</text>
<text transform="translate(361.6,306.0) rotate(-90)" font-size="16.5" fill="#141414" stroke="#141414" stroke-width="0.3">10</text>
<text transform="translate(355.5,286.8) rotate(-90)" font-size="9.2" fill="#141414" stroke="#141414" stroke-width="0.15">4</text>
<text transform="translate(361.6,275.8) rotate(-90)" font-size="16.5" textLength="35.6" lengthAdjust="spacingAndGlyphs" fill="#141414" stroke="#141414" stroke-width="0.3">cells</text>
<text transform="translate(361.6,241.9) rotate(-90)" font-size="16.5" fill="#141414" stroke="#141414" stroke-width="0.3">)</text>
<text x="1.2" y="466.6" font-size="25.5" textLength="13.6" lengthAdjust="spacingAndGlyphs" fill="#141414" stroke="#141414" stroke-width="0.3">b</text>
<text x="40.7" y="467.6" font-size="17" textLength="185.5" lengthAdjust="spacingAndGlyphs" fill="#141414" stroke="#141414" stroke-width="0.3">E15 brain macrophages</text>
<rect x="80.6" y="484.8" width="249.3" height="124.2" fill="none" stroke="#a9a9a9" stroke-width="0.9"/>
<line x1="205.4" y1="484.8" x2="205.4" y2="609.0" stroke="#6a6a6a" stroke-width="0.9" stroke-linecap="butt"/>
<path d="M155.6,537.0L158.1,537.0L161.0,537.5L163.0,538.2L165.0,539.5L166.4,541.0L167.5,543.0L168.1,545.0L168.5,548.0L168.5,550.5L168.6,553.5L168.6,556.5L168.5,559.5L168.2,562.0L167.7,564.5L167.1,567.0L166.4,569.0L165.7,571.5L165.1,574.0L164.5,576.3L163.5,578.5L162.4,580.0L161.0,581.5L159.0,583.0L157.2,584.0L155.1,585.0L153.0,585.9L151.0,586.6L148.5,587.4L146.0,587.9L143.5,588.0L141.0,587.8L138.5,587.0L136.5,586.0L135.0,584.9L133.5,583.5L132.0,581.6L131.0,579.9L130.0,577.6L129.4,575.5L128.9,573.0L128.6,570.0L128.7,567.0L129.0,564.5L129.5,562.0L130.2,559.5L131.0,557.2L131.9,555.0L133.0,553.0L134.0,551.3L135.2,549.5L136.5,547.8L138.0,546.1L139.5,544.6L141.0,543.2L142.6,542.0L144.5,540.7L146.5,539.6L148.5,538.7L150.5,538.0L153.0,537.3L155.6,537.0Z" fill="none" stroke="#3c3c3c" stroke-width="0.55"/>
<path d="M153.6,540.5L156.0,540.2L158.5,540.3L160.5,540.9L162.0,541.6L163.4,543.0L164.3,544.5L164.8,546.5L164.9,549.0L164.8,551.5L164.6,554.0L164.6,556.5L164.6,559.0L164.4,561.0L164.0,563.5L163.6,565.5L163.0,567.5L162.5,569.5L162.4,571.5L162.4,574.0L162.0,576.1L161.2,578.0L160.0,579.5L158.9,580.5L157.3,581.5L155.5,582.3L153.5,582.9L151.5,583.2L149.0,583.5L147.0,583.5L145.0,583.4L142.5,583.0L141.0,582.5L139.0,581.5L137.6,580.5L136.5,579.4L135.4,578.0L134.5,576.5L133.6,574.5L133.1,572.5L132.7,570.5L132.6,568.0L132.8,565.5L133.0,563.5L133.5,561.5L134.1,559.5L134.9,557.5L135.6,556.0L136.5,554.3L137.5,552.7L138.5,551.3L139.5,550.0L140.8,548.5L142.0,547.3L143.4,546.0L144.6,545.0L146.0,544.0L147.5,543.0L149.3,542.0L151.0,541.3L153.0,540.6Z" fill="none" stroke="#3c3c3c" stroke-width="0.55"/>
<path d="M152.7,543.0L154.5,542.7L156.5,542.7L158.2,543.0L159.5,543.5L160.7,544.5L161.5,545.7L162.0,547.5L162.0,549.0L161.9,550.5L161.7,552.5L161.5,554.5L161.5,556.0L161.5,558.0L161.4,560.0L161.2,562.0L161.0,563.5L160.5,565.4L160.1,567.0L159.8,568.5L159.9,570.5L160.2,572.0L160.5,574.0L160.3,576.0L159.6,577.5L158.9,578.5L157.8,579.5L156.5,580.3L155.0,580.9L153.5,581.3L152.0,581.5L150.0,581.5L148.5,581.4L146.6,581.0L145.0,580.5L143.7,580.0L142.5,579.4L141.1,578.5L140.0,577.6L139.0,576.6L138.1,575.5L137.4,574.5L136.6,573.0L136.1,571.5L135.7,570.0L135.5,568.5L135.4,566.5L135.5,565.0L135.8,563.0L136.2,561.5L136.6,560.0L137.1,558.5L137.8,557.0L138.5,555.6L139.1,554.5L140.0,553.1L140.8,552.0L141.5,551.0L142.5,549.9L143.5,548.8L144.5,547.8L145.5,546.9L146.6,546.0L148.0,545.0L149.0,544.4L150.5,543.7L152.0,543.2Z" fill="none" stroke="#3c3c3c" stroke-width="0.55"/>
<path d="M152.3,545.0L153.5,544.9L155.0,544.9L156.0,545.2L157.0,545.6L158.0,546.4L158.5,547.1L158.9,548.5L159.0,550.0L158.8,551.5L158.6,553.0L158.5,554.1L158.4,555.5L158.4,557.0L158.4,558.5L158.4,560.0L158.3,561.5L158.1,563.0L157.9,564.0L157.5,565.5L157.3,566.5L157.1,568.0L157.3,569.5L157.7,570.5L158.1,571.5L158.5,572.5L158.9,574.0L158.9,575.5L158.5,576.6L158.0,577.5L157.0,578.5L156.3,579.0L155.3,579.5L154.0,579.9L153.0,580.1L151.5,580.2L150.0,580.1L149.0,579.9L147.7,579.5L146.5,579.0L145.7,578.5L144.9,578.0L144.0,577.2L143.2,576.5L142.5,575.8L141.8,575.0L141.0,574.1L140.5,573.5L139.7,572.5L139.0,571.5L138.5,570.6L138.0,569.5L137.8,568.5L137.5,567.0L137.4,566.0L137.5,564.5L137.6,563.5L137.8,562.0L138.0,561.0L138.5,559.5L138.8,558.5L139.3,557.5L139.7,556.5L140.2,555.5L140.8,554.5L141.4,553.5L142.0,552.7L142.5,552.0L143.3,551.0L144.0,550.2L144.7,549.5L145.5,548.7L146.3,548.0L147.0,547.4L148.0,546.8L149.0,546.2L150.0,545.7L151.0,545.3L152.3,545.0Z" fill="none" stroke="#3c3c3c" stroke-width="0.55"/>
<path d="M150.1,547.0L151.5,546.6L153.0,546.6L154.3,547.0L155.1,547.5L155.9,548.5L156.2,549.5L156.4,551.0L156.3,552.5L156.2,554.0L156.0,555.5L155.9,556.5L155.8,558.0L155.7,559.5L155.6,561.0L155.5,562.0L155.2,563.5L154.9,564.5L154.5,566.0L154.3,567.0L154.4,568.5L154.8,569.5L155.5,570.5L156.0,571.1L156.6,572.0L157.2,573.0L157.5,574.1L157.5,575.5L157.2,576.5L156.5,577.4L155.8,578.0L154.9,578.5L153.5,579.0L152.5,579.1L151.0,579.1L150.0,578.9L148.7,578.5L147.8,578.0L147.0,577.5L146.0,576.5L145.5,575.9L144.9,575.0L144.4,574.0L143.7,573.0L143.0,572.2L142.2,571.5L141.5,570.9L140.6,570.0L140.0,569.3L139.5,568.3L139.0,567.0L138.8,566.0L138.7,564.5L138.8,563.0L139.0,561.8L139.3,560.5L139.6,559.5L140.0,558.3L140.5,557.1L141.0,556.0L141.5,555.1L142.0,554.3L142.5,553.5L143.2,552.5L144.0,551.5L144.5,551.0L145.5,550.0L146.0,549.5L147.0,548.7L148.0,548.0L148.9,547.5L150.0,547.0Z" fill="none" stroke="#3c3c3c" stroke-width="0.55"/>
<path d="M150.5,548.0L152.0,548.0L153.0,548.3L153.8,549.0L154.4,550.0L154.6,551.0L154.7,552.5L154.7,554.0L154.5,555.4L154.4,556.5L154.1,558.0L153.9,559.0L153.6,560.5L153.3,561.5L153.0,562.5L152.5,563.7L152.0,564.8L151.5,565.7L151.0,566.6L150.5,567.6L150.3,569.0L151.0,569.7L152.0,570.2L153.0,570.8L154.0,571.4L154.7,572.0L155.5,572.9L156.0,573.7L156.3,575.0L156.0,576.0L155.3,577.0L154.5,577.5L153.2,578.0L152.0,578.1L151.0,578.0L149.5,577.5L148.7,577.0L148.0,576.4L147.4,575.5L147.0,574.5L146.8,573.0L146.9,571.5L146.4,570.5L145.0,570.0L144.0,569.8L143.0,569.4L142.0,568.9L141.0,568.0L140.5,567.2L140.0,566.0L139.8,565.0L139.7,563.5L139.8,562.0L140.0,561.0L140.4,559.5L140.7,558.5L141.1,557.5L141.6,556.5L142.1,555.5L142.7,554.5L143.3,553.5L144.0,552.6L144.5,552.0L145.5,551.0L146.0,550.5L147.0,549.7L148.0,549.0L148.9,548.5L150.0,548.1Z" fill="none" stroke="#3c3c3c" stroke-width="0.55"/>
<path d="M148.7,549.5L149.5,549.2L150.5,549.0L151.5,549.1L152.3,549.5L152.8,550.0L153.1,550.5L153.5,551.5L153.6,552.0L153.6,553.0L153.6,554.0L153.5,555.0L153.5,555.5L153.3,556.5L153.1,557.5L153.0,558.0L152.7,559.0L152.5,559.6L152.2,560.5L152.0,561.0L151.6,562.0L151.3,562.5L151.0,563.1L150.5,563.9L150.1,564.5L149.7,565.0L149.2,565.5L148.7,566.0L148.2,566.5L147.5,567.0L147.0,567.3L146.5,567.5L145.5,567.9L144.5,568.0L143.5,567.9L142.6,567.5L142.0,567.1L141.5,566.5L141.2,566.0L140.9,565.5L140.6,564.5L140.5,563.5L140.5,562.5L140.6,561.5L140.8,560.5L141.0,559.6L141.2,559.0L141.5,558.1L141.7,557.5L142.0,556.9L142.5,556.0L142.7,555.5L143.0,555.0L143.5,554.3L144.0,553.6L144.4,553.0L144.9,552.5L145.3,552.0L145.8,551.5L146.4,551.0L147.0,550.5L147.5,550.1L148.0,549.8L148.7,549.5Z" fill="none" stroke="#3c3c3c" stroke-width="0.55"/>
<path d="M150.9,572.5L151.0,572.5L151.5,572.4L152.0,572.5L152.0,572.5L152.5,572.6L153.0,572.8L153.4,573.0L153.5,573.1L154.0,573.5L154.0,573.5L154.4,574.0L154.5,574.2L154.6,574.5L154.7,575.0L154.6,575.5L154.5,575.7L154.3,576.0L154.0,576.3L153.7,576.5L153.5,576.6L153.0,576.8L152.5,576.9L152.0,576.9L151.5,576.8L151.0,576.7L150.5,576.5L150.5,576.5L150.0,576.1L149.8,576.0L149.5,575.6L149.4,575.5L149.2,575.0L149.1,574.5L149.2,574.0L149.4,573.5L149.5,573.4L149.8,573.0L150.0,572.9L150.5,572.6L150.9,572.5Z" fill="none" stroke="#3c3c3c" stroke-width="0.55"/>
<path d="M148.2,550.5L148.5,550.4L149.0,550.2L149.5,550.1L150.0,550.0L150.5,550.0L151.0,550.1L151.5,550.4L151.6,550.5L152.0,550.9L152.1,551.0L152.4,551.5L152.5,551.8L152.6,552.0L152.7,552.5L152.8,553.0L152.8,553.5L152.8,554.0L152.8,554.5L152.7,555.0L152.7,555.5L152.6,556.0L152.5,556.5L152.5,556.5L152.4,557.0L152.3,557.5L152.1,558.0L152.0,558.5L152.0,558.5L151.8,559.0L151.7,559.5L151.5,559.9L151.4,560.0L151.2,560.5L151.0,561.0L151.0,561.0L150.7,561.5L150.5,561.9L150.5,562.0L150.2,562.5L150.0,562.7L149.8,563.0L149.5,563.4L149.4,563.5L149.0,564.0L149.0,564.0L148.6,564.5L148.5,564.6L148.1,565.0L148.0,565.0L147.5,565.5L147.4,565.5L147.0,565.8L146.6,566.0L146.5,566.1L146.0,566.3L145.5,566.5L145.4,566.5L145.0,566.6L144.5,566.7L144.0,566.6L143.5,566.5L143.4,566.5L143.0,566.3L142.5,566.0L142.5,566.0L142.1,565.5L142.0,565.4L141.7,565.0L141.5,564.5L141.5,564.4L141.4,564.0L141.3,563.5L141.2,563.0L141.2,562.5L141.2,562.0L141.2,561.5L141.3,561.0L141.4,560.5L141.5,560.0L141.5,559.9L141.6,559.5L141.7,559.0L141.9,558.5L142.0,558.3L142.1,558.0L142.3,557.5L142.5,557.0L142.5,557.0L142.8,556.5L143.0,556.0L143.0,556.0L143.3,555.5L143.5,555.2L143.6,555.0L143.9,554.5L144.0,554.4L144.3,554.0L144.5,553.7L144.7,553.5L145.0,553.1L145.1,553.0L145.5,552.6L145.6,552.5L146.0,552.1L146.1,552.0L146.5,551.6L146.7,551.5L147.0,551.2L147.4,551.0L147.5,550.9L148.0,550.6L148.2,550.5Z" fill="none" stroke="#3c3c3c" stroke-width="0.55"/>
<path d="M148.9,551.0L149.0,551.0L149.5,550.9L150.0,550.9L150.4,551.0L150.5,551.0L151.0,551.3L151.2,551.5L151.5,551.9L151.6,552.0L151.8,552.5L151.9,553.0L152.0,553.4L152.0,553.5L152.1,554.0L152.1,554.5L152.0,555.0L152.0,555.4L152.0,555.5L151.9,556.0L151.8,556.5L151.7,557.0L151.6,557.5L151.5,557.9L151.5,558.0L151.3,558.5L151.1,559.0L151.0,559.3L150.9,559.5L150.7,560.0L150.5,560.4L150.5,560.5L150.2,561.0L150.0,561.3L149.9,561.5L149.6,562.0L149.5,562.1L149.2,562.5L149.0,562.8L148.8,563.0L148.5,563.4L148.4,563.5L148.0,563.9L147.9,564.0L147.5,564.3L147.3,564.5L147.0,564.7L146.5,565.0L146.5,565.0L146.0,565.2L145.5,565.4L145.1,565.5L145.0,565.5L144.5,565.6L144.0,565.5L144.0,565.5L143.5,565.4L143.0,565.0L142.9,565.0L142.5,564.5L142.5,564.5L142.2,564.0L142.0,563.5L142.0,563.3L141.9,563.0L141.9,562.5L141.8,562.0L141.8,561.5L141.9,561.0L141.9,560.5L142.0,560.1L142.0,560.0L142.1,559.5L142.3,559.0L142.4,558.5L142.5,558.3L142.6,558.0L142.8,557.5L143.0,557.1L143.0,557.0L143.3,556.5L143.5,556.1L143.6,556.0L143.8,555.5L144.0,555.3L144.2,555.0L144.5,554.5L144.5,554.5L144.9,554.0L145.0,553.9L145.3,553.5L145.5,553.3L145.8,553.0L146.0,552.8L146.3,552.5L146.5,552.3L146.9,552.0L147.0,551.9L147.5,551.6L147.7,551.5L148.0,551.3L148.5,551.1L148.9,551.0Z" fill="none" stroke="#3c3c3c" stroke-width="0.55"/>
<path d="M148.1,552.0L148.5,551.8L149.0,551.7L149.5,551.7L150.0,551.8L150.3,552.0L150.5,552.1L150.8,552.5L151.0,552.8L151.1,553.0L151.3,553.5L151.4,554.0L151.4,554.5L151.4,555.0L151.4,555.5L151.3,556.0L151.2,556.5L151.1,557.0L151.0,557.5L151.0,557.5L150.9,558.0L150.7,558.5L150.5,559.0L150.5,559.0L150.3,559.5L150.0,560.0L150.0,560.1L149.8,560.5L149.5,561.0L149.5,561.0L149.1,561.5L149.0,561.7L148.8,562.0L148.5,562.3L148.4,562.5L148.0,562.9L147.9,563.0L147.5,563.4L147.3,563.5L147.0,563.7L146.6,564.0L146.5,564.1L146.0,564.3L145.5,564.5L145.4,564.5L145.0,564.6L144.5,564.6L144.1,564.5L144.0,564.5L143.5,564.2L143.3,564.0L143.0,563.7L142.9,563.5L142.7,563.0L142.5,562.5L142.5,562.4L142.4,562.0L142.4,561.5L142.4,561.0L142.5,560.5L142.5,560.3L142.5,560.0L142.6,559.5L142.8,559.0L142.9,558.5L143.0,558.3L143.1,558.0L143.3,557.5L143.5,557.1L143.5,557.0L143.8,556.5L144.0,556.1L144.1,556.0L144.4,555.5L144.5,555.3L144.7,555.0L145.0,554.6L145.1,554.5L145.5,554.0L145.5,554.0L146.0,553.5L146.0,553.5L146.5,553.0L146.5,553.0L147.0,552.6L147.2,552.5L147.5,552.3L148.0,552.0L148.1,552.0Z" fill="none" stroke="#3c3c3c" stroke-width="0.55"/>
<path d="M147.5,553.0L147.5,553.0L148.0,552.7L148.5,552.6L149.0,552.5L149.5,552.6L150.0,552.9L150.1,553.0L150.4,553.5L150.5,553.6L150.6,554.0L150.7,554.5L150.8,555.0L150.8,555.5L150.7,556.0L150.7,556.5L150.6,557.0L150.5,557.2L150.4,557.5L150.3,558.0L150.1,558.5L150.0,558.8L149.9,559.0L149.7,559.5L149.5,559.8L149.4,560.0L149.1,560.5L149.0,560.7L148.8,561.0L148.5,561.4L148.4,561.5L148.0,562.0L148.0,562.0L147.5,562.5L147.5,562.5L147.0,562.9L146.8,563.0L146.5,563.2L146.0,563.5L145.9,563.5L145.5,563.6L145.0,563.7L144.5,563.6L144.2,563.5L144.0,563.4L143.6,563.0L143.5,562.9L143.3,562.5L143.1,562.0L143.0,561.5L143.0,561.1L143.0,561.0L143.0,560.9L143.0,560.5L143.1,560.0L143.2,559.5L143.3,559.0L143.4,558.5L143.5,558.2L143.6,558.0L143.8,557.5L144.0,557.0L144.0,557.0L144.3,556.5L144.5,556.1L144.6,556.0L144.9,555.5L145.0,555.3L145.3,555.0L145.5,554.7L145.7,554.5L146.0,554.2L146.2,554.0L146.5,553.7L146.7,553.5L147.0,553.3L147.5,553.0Z" fill="none" stroke="#3c3c3c" stroke-width="0.55"/>
<path d="M147.9,553.5L148.0,553.5L148.5,553.4L149.0,553.4L149.2,553.5L149.5,553.7L149.8,554.0L150.0,554.5L150.0,554.5L150.1,555.0L150.2,555.5L150.1,556.0L150.1,556.5L150.0,557.0L150.0,557.0L149.9,557.5L149.7,558.0L149.5,558.5L149.5,558.6L149.3,559.0L149.1,559.5L149.0,559.6L148.8,560.0L148.5,560.4L148.5,560.5L148.1,561.0L148.0,561.1L147.6,561.5L147.5,561.6L147.1,562.0L147.0,562.0L146.5,562.4L146.2,562.5L146.0,562.6L145.5,562.7L145.0,562.7L144.5,562.6L144.4,562.5L144.0,562.1L143.9,562.0L143.7,561.5L143.6,561.0L143.6,560.5L143.6,560.0L143.7,559.5L143.8,559.0L143.9,558.5L144.0,558.2L144.1,558.0L144.3,557.5L144.5,557.0L144.5,557.0L144.8,556.5L145.0,556.2L145.1,556.0L145.5,555.5L145.5,555.4L145.9,555.0L146.0,554.9L146.4,554.5L146.5,554.4L147.0,554.0L147.0,554.0L147.5,553.7L147.9,553.5Z" fill="none" stroke="#3c3c3c" stroke-width="0.55"/>
<path d="M147.4,554.5L147.5,554.4L148.0,554.3L148.5,554.3L148.9,554.5L149.0,554.6L149.3,555.0L149.4,555.5L149.5,556.0L149.5,556.5L149.4,557.0L149.3,557.5L149.1,558.0L149.0,558.4L148.9,558.5L148.7,559.0L148.5,559.4L148.4,559.5L148.1,560.0L148.0,560.1L147.7,560.5L147.5,560.7L147.2,561.0L147.0,561.2L146.5,561.5L146.5,561.5L146.0,561.7L145.5,561.8L145.0,561.7L144.8,561.5L144.5,561.2L144.4,561.0L144.3,560.5L144.2,560.0L144.3,559.5L144.3,559.0L144.4,558.5L144.5,558.3L144.6,558.0L144.8,557.5L145.0,557.1L145.1,557.0L145.4,556.5L145.5,556.3L145.7,556.0L146.0,555.6L146.1,555.5L146.5,555.1L146.7,555.0L147.0,554.7L147.4,554.5Z" fill="none" stroke="#3c3c3c" stroke-width="0.55"/>
<path d="M147.0,555.5L147.0,555.5L147.5,555.2L148.0,555.2L148.5,555.4L148.6,555.5L148.8,556.0L148.8,556.5L148.8,557.0L148.7,557.5L148.6,558.0L148.5,558.2L148.4,558.5L148.1,559.0L148.0,559.2L147.8,559.5L147.5,559.9L147.4,560.0L147.0,560.4L146.8,560.5L146.5,560.7L146.0,560.9L145.5,560.8L145.1,560.5L145.0,560.3L144.9,560.0L144.9,559.5L144.9,559.0L145.0,558.5L145.0,558.5L145.2,558.0L145.4,557.5L145.5,557.2L145.6,557.0L146.0,556.5L146.0,556.4L146.4,556.0L146.5,555.9L147.0,555.5Z" fill="none" stroke="#3c3c3c" stroke-width="0.55"/>
<path d="M146.8,556.5L147.0,556.3L147.5,556.1L148.0,556.4L148.1,556.5L148.1,557.0L148.1,557.5L148.0,557.9L148.0,558.0L147.7,558.5L147.5,558.9L147.4,559.0L147.0,559.5L147.0,559.5L146.5,559.8L146.0,559.8L145.7,559.5L145.5,559.0L145.6,558.5L145.7,558.0L145.9,557.5L146.0,557.4L146.3,557.0L146.5,556.7L146.8,556.5Z" fill="none" stroke="#3c3c3c" stroke-width="0.55"/>
<path d="M282.5,532.5L285.0,532.6L287.5,533.1L289.7,534.0L291.5,535.1L293.0,536.5L294.5,538.3L295.5,540.1L296.4,542.5L297.0,544.8L297.3,547.5L297.3,550.5L297.0,553.4L296.5,556.0L296.0,558.0L295.2,560.5L294.4,562.5L293.5,564.5L292.5,566.5L291.3,568.5L290.1,570.5L289.0,572.2L287.7,574.0L286.5,575.7L285.1,577.5L283.8,579.0L282.3,580.5L280.5,581.9L278.9,583.0L277.0,584.1L275.0,585.0L272.5,586.0L270.5,586.6L268.0,587.2L265.1,587.5L263.0,587.5L260.1,587.0L258.0,586.2L256.0,585.1L254.5,583.8L253.0,582.1L252.0,580.5L251.0,578.3L250.3,576.0L250.0,573.5L249.8,570.5L250.0,568.0L250.5,565.0L251.0,562.8L251.7,560.5L252.5,558.2L253.5,556.0L254.5,554.0L255.5,552.1L256.5,550.5L257.8,548.5L259.0,546.9L260.5,545.1L261.9,543.5L263.4,542.0L265.0,540.5L266.5,539.3L268.2,538.0L270.0,536.8L272.0,535.6L274.0,534.6L276.0,533.8L278.5,533.1L281.0,532.6Z" fill="none" stroke="#3c3c3c" stroke-width="0.55"/>
<path d="M278.5,538.0L280.5,537.7L283.0,537.8L285.0,538.3L286.5,539.0L288.0,540.0L289.4,541.5L290.5,543.0L291.2,544.5L291.9,546.5L292.3,548.5L292.5,551.0L292.4,553.5L292.0,555.9L291.5,558.0L291.0,559.7L290.3,561.5L289.5,563.4L288.7,565.0L287.9,566.5L287.0,568.0L286.0,569.5L285.0,571.2L284.0,572.8L283.0,574.5L282.1,576.0L281.0,577.4L279.9,578.5L278.5,579.6L277.0,580.6L275.1,581.5L273.5,582.0L271.5,582.5L269.0,582.8L266.5,582.8L264.3,582.5L262.5,582.0L260.5,581.1L259.0,580.0L257.9,579.0L256.8,577.5L256.0,576.0L255.2,574.0L254.8,572.0L254.6,569.5L254.7,567.0L255.0,564.8L255.5,562.5L256.0,560.8L256.6,559.0L257.5,557.0L258.2,555.5L259.0,554.0L260.0,552.3L261.0,550.9L262.0,549.5L263.2,548.0L264.5,546.6L265.6,545.5L267.0,544.2L268.4,543.0L269.8,542.0L271.3,541.0L273.0,540.0L274.5,539.3L276.5,538.5L278.5,538.0Z" fill="none" stroke="#3c3c3c" stroke-width="0.55"/>
<path d="M279.3,541.0L280.8,541.0L282.5,541.3L284.0,542.0L285.0,542.7L286.0,543.8L286.9,545.0L287.5,546.3L288.0,547.7L288.4,549.5L288.6,551.0L288.7,553.0L288.5,555.0L288.3,556.5L288.0,558.0L287.5,559.6L287.0,561.0L286.3,562.5L285.6,564.0L285.0,565.1L284.2,566.5L283.5,567.6L282.7,569.0L282.0,570.3L281.4,571.5L280.8,573.0L280.0,574.5L279.4,575.5L278.5,576.7L277.5,577.6L276.3,578.5L275.0,579.2L273.5,579.8L272.0,580.1L270.0,580.4L268.0,580.3L266.5,580.0L264.9,579.5L263.5,578.8L262.3,578.0L261.2,577.0L260.3,576.0L259.5,574.6L259.0,573.5L258.5,571.8L258.2,570.0L258.0,568.0L258.1,566.0L258.3,564.0L258.6,562.5L259.1,561.0L259.5,559.5L260.1,558.0L260.8,556.5L261.5,555.2L262.2,554.0L263.0,552.7L263.9,551.5L264.6,550.5L265.5,549.5L266.5,548.3L267.5,547.3L268.5,546.4L269.6,545.5L270.9,544.5L272.0,543.7L273.2,543.0L274.5,542.3L276.0,541.7L277.5,541.3L279.3,541.0Z" fill="none" stroke="#3c3c3c" stroke-width="0.55"/>
<path d="M277.2,543.5L279.0,543.3L280.7,543.5L282.0,544.0L283.3,545.0L284.0,546.0L284.8,547.5L285.2,549.0L285.5,550.8L285.6,552.5L285.5,554.1L285.2,556.0L284.9,557.5L284.5,559.0L283.9,560.5L283.3,562.0L282.5,563.5L281.9,564.5L281.0,566.0L280.4,567.0L279.5,568.5L279.0,569.8L278.5,571.4L278.0,573.0L277.5,574.1L276.6,575.5L275.6,576.5L274.5,577.2L273.0,577.9L271.5,578.2L269.5,578.3L267.9,578.0L266.5,577.5L265.0,576.7L264.0,575.8L263.0,574.6L262.3,573.5L261.7,572.0L261.2,570.5L260.8,569.0L260.6,567.0L260.6,565.0L260.8,563.0L261.1,561.5L261.6,560.0L262.1,558.5L262.7,557.0L263.5,555.5L264.1,554.5L265.0,553.1L265.7,552.0L266.5,551.0L267.5,549.9L268.5,548.8L269.5,547.8L270.5,547.0L271.8,546.0L273.0,545.2L274.4,544.5L275.5,544.0L277.2,543.5Z" fill="none" stroke="#3c3c3c" stroke-width="0.55"/>
<path d="M277.2,545.0L278.5,544.9L279.5,545.0L280.7,545.5L281.5,546.0L282.3,547.0L282.9,548.0L283.2,549.0L283.5,550.5L283.6,551.5L283.5,553.0L283.4,554.0L283.2,555.5L282.9,556.5L282.5,557.9L282.1,559.0L281.7,560.0L281.2,561.0L280.7,562.0L280.1,563.0L279.5,563.8L279.0,564.6L278.3,565.5L277.6,566.5L277.0,567.5L276.5,568.4L276.1,569.5L275.9,570.5L275.6,572.0L275.4,573.0L274.9,574.0L274.1,575.0L273.4,575.5L272.4,576.0L271.0,576.3L269.5,576.2L268.5,576.0L267.5,575.5L266.5,574.8L265.8,574.0L265.1,573.0L264.5,572.0L264.0,571.1L263.5,570.0L263.1,569.0L262.8,568.0L262.5,566.9L262.3,565.5L262.3,564.0L262.4,562.5L262.6,561.5L263.0,560.0L263.3,559.0L263.7,558.0L264.1,557.0L264.6,556.0L265.2,555.0L265.8,554.0L266.5,553.0L267.0,552.3L267.6,551.5L268.5,550.5L269.0,549.9L270.0,549.0L270.5,548.5L271.5,547.7L272.5,547.0L273.3,546.5L274.2,546.0L275.4,545.5L276.5,545.1Z" fill="none" stroke="#3c3c3c" stroke-width="0.55"/>
<path d="M275.8,546.5L277.0,546.2L278.5,546.3L279.5,546.6L280.5,547.2L281.2,548.0L281.7,549.0L282.0,550.0L282.2,551.5L282.2,553.0L282.0,554.2L281.7,555.5L281.4,556.5L281.0,557.7L280.5,558.9L280.0,559.9L279.5,560.8L279.0,561.7L278.4,562.5L277.7,563.5L277.0,564.4L276.4,565.0L275.6,566.0L275.0,566.6L274.2,567.5L273.5,568.4L273.0,569.1L272.5,570.0L272.0,571.3L271.5,572.3L270.5,572.9L269.1,572.5L268.4,572.0L267.5,571.1L266.8,570.5L266.0,569.7L265.4,569.0L264.7,568.0L264.2,567.0L263.9,566.0L263.6,564.5L263.6,563.0L263.7,561.5L264.0,560.2L264.4,559.0L264.7,558.0L265.1,557.0L265.6,556.0L266.2,555.0L266.8,554.0L267.5,553.0L268.0,552.4L268.7,551.5L269.5,550.7L270.2,550.0L271.0,549.2L271.9,548.5L272.7,548.0L273.5,547.5L274.5,547.0L275.8,546.5Z" fill="none" stroke="#3c3c3c" stroke-width="0.55"/>
<path d="M275.7,547.5L276.5,547.3L277.5,547.3L278.5,547.5L279.0,547.7L279.5,548.1L280.0,548.5L280.5,549.3L280.8,550.0L281.0,550.9L281.1,551.5L281.1,552.5L281.0,553.5L281.0,554.0L280.8,555.0L280.5,556.0L280.3,556.5L280.0,557.4L279.8,558.0L279.5,558.5L279.0,559.5L278.7,560.0L278.4,560.5L278.0,561.1L277.5,561.8L277.0,562.5L276.6,563.0L276.1,563.5L275.7,564.0L275.2,564.5L274.7,565.0L274.1,565.5L273.5,566.0L273.0,566.4L272.5,566.8L272.0,567.1L271.3,567.5L270.5,567.9L270.0,568.1L269.0,568.2L268.0,568.1L267.5,568.0L266.7,567.5L266.1,567.0L265.7,566.5L265.4,566.0L265.0,565.2L264.8,564.5L264.6,563.5L264.6,562.5L264.7,561.5L264.8,560.5L265.0,559.8L265.2,559.0L265.5,558.2L265.8,557.5L266.0,557.0L266.5,556.0L266.8,555.5L267.0,555.0L267.5,554.3L268.0,553.6L268.4,553.0L268.8,552.5L269.2,552.0L269.7,551.5L270.2,551.0L270.7,550.5L271.3,550.0L271.9,549.5L272.5,549.0L273.0,548.7L273.5,548.4L274.3,548.0L275.0,547.7L275.7,547.5Z" fill="none" stroke="#3c3c3c" stroke-width="0.55"/>
<path d="M275.3,548.5L276.0,548.3L277.0,548.3L278.0,548.5L278.5,548.8L279.0,549.1L279.5,549.8L279.9,550.5L280.0,551.0L280.2,552.0L280.2,553.0L280.1,554.0L280.0,554.5L279.8,555.5L279.5,556.3L279.3,557.0L279.0,557.6L278.6,558.5L278.3,559.0L278.0,559.5L277.5,560.3L277.0,561.0L276.6,561.5L276.2,562.0L275.8,562.5L275.3,563.0L274.8,563.5L274.3,564.0L273.7,564.5L273.0,565.0L272.5,565.3L272.0,565.6L271.3,566.0L270.5,566.3L269.6,566.5L269.0,566.5L268.5,566.5L267.5,566.2L267.0,565.8L266.5,565.3L266.0,564.6L265.8,564.0L265.6,563.0L265.5,562.4L265.5,561.7L265.5,561.0L265.7,560.0L266.0,559.0L266.1,558.5L266.5,557.5L266.7,557.0L267.0,556.4L267.5,555.5L267.8,555.0L268.1,554.5L268.5,553.9L269.0,553.3L269.5,552.6L270.0,552.1L270.5,551.6L271.0,551.1L271.5,550.7L272.0,550.2L272.5,549.9L273.1,549.5L274.0,549.0L274.5,548.8L275.3,548.5Z" fill="none" stroke="#3c3c3c" stroke-width="0.55"/>
<path d="M274.7,549.5L275.0,549.4L275.5,549.3L276.0,549.2L276.5,549.2L277.0,549.3L277.5,549.4L277.7,549.5L278.0,549.7L278.3,550.0L278.5,550.2L278.7,550.5L279.0,551.0L279.0,551.0L279.2,551.5L279.3,552.0L279.3,552.5L279.4,553.0L279.3,553.5L279.3,554.0L279.2,554.5L279.1,555.0L279.0,555.4L279.0,555.5L278.8,556.0L278.7,556.5L278.5,556.9L278.5,557.0L278.3,557.5L278.0,558.0L278.0,558.0L277.8,558.5L277.5,558.9L277.5,559.0L277.2,559.5L277.0,559.8L276.8,560.0L276.5,560.5L276.5,560.5L276.1,561.0L276.0,561.1L275.7,561.5L275.5,561.7L275.2,562.0L275.0,562.2L274.7,562.5L274.5,562.7L274.2,563.0L274.0,563.2L273.6,563.5L273.5,563.6L273.0,563.9L272.9,564.0L272.5,564.3L272.1,564.5L272.0,564.5L271.5,564.8L271.0,565.0L270.9,565.0L270.5,565.1L270.0,565.2L269.5,565.3L269.0,565.3L268.5,565.2L268.1,565.0L268.0,564.9L267.5,564.6L267.4,564.5L267.0,564.0L267.0,564.0L266.7,563.5L266.5,563.0L266.5,562.9L266.4,562.5L266.3,562.0L266.3,561.5L266.3,561.0L266.4,560.5L266.4,560.0L266.5,559.7L266.5,559.5L266.7,559.0L266.8,558.5L267.0,558.0L267.0,557.9L267.2,557.5L267.4,557.0L267.5,556.8L267.6,556.5L267.9,556.0L268.0,555.8L268.2,555.5L268.5,555.0L268.5,555.0L268.8,554.5L269.0,554.2L269.2,554.0L269.5,553.6L269.5,553.5L270.0,553.0L270.0,552.9L270.4,552.5L270.5,552.4L270.9,552.0L271.0,551.9L271.4,551.5L271.5,551.4L272.0,551.0L272.0,551.0L272.5,550.7L272.7,550.5L273.0,550.3L273.5,550.0L273.6,550.0L274.0,549.8L274.5,549.6L274.7,549.5Z" fill="none" stroke="#3c3c3c" stroke-width="0.55"/>
<path d="M274.1,550.5L274.5,550.3L275.0,550.2L275.5,550.1L276.0,550.1L276.5,550.1L277.0,550.3L277.3,550.5L277.5,550.6L277.9,551.0L278.0,551.2L278.2,551.5L278.4,552.0L278.5,552.5L278.5,552.5L278.6,553.0L278.6,553.5L278.5,554.0L278.5,554.3L278.5,554.5L278.4,555.0L278.3,555.5L278.1,556.0L278.0,556.3L277.9,556.5L277.7,557.0L277.5,557.5L277.5,557.6L277.3,558.0L277.0,558.5L277.0,558.5L276.7,559.0L276.5,559.3L276.4,559.5L276.0,560.0L276.0,560.0L275.6,560.5L275.5,560.7L275.2,561.0L275.0,561.2L274.7,561.5L274.5,561.7L274.2,562.0L274.0,562.2L273.6,562.5L273.5,562.6L273.0,563.0L273.0,563.0L272.5,563.3L272.1,563.5L272.0,563.6L271.5,563.8L271.0,564.0L271.0,564.0L270.5,564.1L270.0,564.2L269.5,564.2L269.0,564.1L268.8,564.0L268.5,563.9L268.0,563.5L268.0,563.5L267.6,563.0L267.5,562.8L267.4,562.5L267.2,562.0L267.1,561.5L267.1,561.0L267.1,560.5L267.1,560.0L267.2,559.5L267.3,559.0L267.5,558.5L267.5,558.4L267.6,558.0L267.8,557.5L268.0,557.0L268.0,557.0L268.3,556.5L268.5,556.0L268.5,556.0L268.8,555.5L269.0,555.2L269.1,555.0L269.5,554.5L269.5,554.5L269.8,554.0L270.0,553.8L270.2,553.5L270.5,553.2L270.7,553.0L271.0,552.7L271.2,552.5L271.5,552.2L271.7,552.0L272.0,551.8L272.4,551.5L272.5,551.4L273.0,551.1L273.1,551.0L273.5,550.8L274.0,550.5L274.1,550.5Z" fill="none" stroke="#3c3c3c" stroke-width="0.55"/>
<path d="M275.0,551.0L275.0,551.0L275.5,551.0L276.0,551.0L276.0,551.0L276.5,551.2L277.0,551.5L277.0,551.5L277.4,552.0L277.5,552.2L277.6,552.5L277.7,553.0L277.8,553.5L277.8,554.0L277.8,554.5L277.7,555.0L277.6,555.5L277.5,555.8L277.4,556.0L277.3,556.5L277.1,557.0L277.0,557.1L276.8,557.5L276.6,558.0L276.5,558.1L276.3,558.5L276.0,559.0L276.0,559.0L275.6,559.5L275.5,559.7L275.2,560.0L275.0,560.3L274.8,560.5L274.5,560.8L274.3,561.0L274.0,561.3L273.8,561.5L273.5,561.7L273.1,562.0L273.0,562.1L272.5,562.4L272.4,562.5L272.0,562.7L271.5,562.9L271.2,563.0L271.0,563.1L270.5,563.2L270.0,563.2L269.5,563.1L269.3,563.0L269.0,562.9L268.5,562.5L268.5,562.5L268.2,562.0L268.0,561.5L268.0,561.5L267.9,561.0L267.8,560.5L267.8,560.0L267.9,559.5L268.0,559.0L268.0,558.9L268.1,558.5L268.3,558.0L268.4,557.5L268.5,557.3L268.6,557.0L268.9,556.5L269.0,556.3L269.1,556.0L269.4,555.5L269.5,555.4L269.8,555.0L270.0,554.7L270.1,554.5L270.5,554.0L270.5,554.0L271.0,553.5L271.0,553.5L271.5,553.0L271.5,553.0L272.0,552.5L272.0,552.5L272.5,552.1L272.7,552.0L273.0,551.8L273.5,551.5L273.5,551.5L274.0,551.3L274.5,551.1L275.0,551.0Z" fill="none" stroke="#3c3c3c" stroke-width="0.55"/>
<path d="M274.2,552.0L274.5,551.9L275.0,551.9L275.5,551.9L275.8,552.0L276.0,552.1L276.5,552.5L276.5,552.5L276.8,553.0L277.0,553.5L277.0,553.8L277.0,554.0L277.0,554.5L277.0,554.7L277.0,555.0L276.9,555.5L276.7,556.0L276.6,556.5L276.5,556.7L276.4,557.0L276.1,557.5L276.0,557.8L275.9,558.0L275.6,558.5L275.5,558.6L275.2,559.0L275.0,559.3L274.8,559.5L274.5,559.9L274.4,560.0L274.0,560.4L273.9,560.5L273.5,560.9L273.3,561.0L273.0,561.2L272.6,561.5L272.5,561.6L272.0,561.8L271.5,562.0L271.5,562.0L271.0,562.1L270.5,562.2L270.0,562.1L269.7,562.0L269.5,561.9L269.1,561.5L269.0,561.4L268.8,561.0L268.7,560.5L268.6,560.0L268.6,559.5L268.7,559.0L268.8,558.5L268.9,558.0L269.0,557.7L269.1,557.5L269.3,557.0L269.5,556.5L269.5,556.5L269.8,556.0L270.0,555.6L270.1,555.5L270.4,555.0L270.5,554.9L270.8,554.5L271.0,554.3L271.3,554.0L271.5,553.8L271.8,553.5L272.0,553.3L272.4,553.0L272.5,552.9L273.0,552.6L273.1,552.5L273.5,552.3L274.0,552.1L274.2,552.0Z" fill="none" stroke="#3c3c3c" stroke-width="0.55"/>
<path d="M273.8,553.0L274.0,552.9L274.5,552.8L275.0,552.9L275.4,553.0L275.5,553.1L275.9,553.5L276.0,553.7L276.1,554.0L276.2,554.5L276.2,555.0L276.1,555.5L276.0,556.0L276.0,556.1L275.9,556.5L275.7,557.0L275.5,557.3L275.4,557.5L275.1,558.0L275.0,558.2L274.8,558.5L274.5,558.9L274.4,559.0L274.0,559.5L274.0,559.5L273.5,559.9L273.4,560.0L273.0,560.3L272.8,560.5L272.5,560.7L272.0,560.9L271.7,561.0L271.5,561.1L271.0,561.1L270.5,561.1L270.4,561.0L270.0,560.8L269.8,560.5L269.5,560.0L269.5,559.9L269.4,559.5L269.4,559.0L269.5,558.5L269.5,558.4L269.6,558.0L269.8,557.5L270.0,557.0L270.0,556.9L270.2,556.5L270.5,556.0L270.5,556.0L270.8,555.5L271.0,555.2L271.2,555.0L271.5,554.6L271.6,554.5L272.0,554.1L272.2,554.0L272.5,553.7L272.8,553.5L273.0,553.4L273.5,553.1L273.8,553.0Z" fill="none" stroke="#3c3c3c" stroke-width="0.55"/>
<path d="M273.4,554.0L273.5,553.9L274.0,553.8L274.5,553.8L274.8,554.0L275.0,554.1L275.2,554.5L275.4,555.0L275.4,555.5L275.3,556.0L275.1,556.5L275.0,556.9L275.0,557.0L274.7,557.5L274.5,557.8L274.4,558.0L274.0,558.5L274.0,558.5L273.5,559.0L273.5,559.0L273.0,559.5L272.9,559.5L272.5,559.8L272.0,560.0L272.0,560.0L271.5,560.1L271.0,560.0L270.9,560.0L270.5,559.6L270.4,559.5L270.3,559.0L270.3,558.5L270.3,558.0L270.4,557.5L270.5,557.3L270.6,557.0L270.9,556.5L271.0,556.3L271.2,556.0L271.5,555.5L271.5,555.5L272.0,555.0L272.0,555.0L272.5,554.5L272.5,554.5L273.0,554.2L273.4,554.0Z" fill="none" stroke="#3c3c3c" stroke-width="0.55"/>
<path d="M273.2,555.0L273.5,554.9L274.0,554.9L274.1,555.0L274.5,555.5L274.5,555.9L274.5,556.0L274.5,556.0L274.4,556.5L274.2,557.0L274.0,557.4L273.9,557.5L273.6,558.0L273.5,558.1L273.0,558.5L273.0,558.5L272.5,558.8L272.0,559.0L272.0,559.0L272.0,559.0L271.5,558.9L271.2,558.5L271.1,558.0L271.2,557.5L271.4,557.0L271.5,556.7L271.6,556.5L272.0,556.0L272.0,555.9L272.4,555.5L272.5,555.4L273.0,555.1L273.2,555.0Z" fill="none" stroke="#3c3c3c" stroke-width="0.55"/>
<path d="M255.0,513.0L256.0,513.0L257.0,513.0L258.5,513.2L259.8,513.5L261.0,513.9L262.0,514.3L263.0,514.9L264.0,515.5L264.7,516.0L265.5,516.7L266.3,517.5L267.0,518.4L267.5,519.2L268.0,520.0L268.5,521.1L269.0,522.5L269.2,523.5L269.4,525.0L269.4,526.5L269.2,528.0L268.9,529.0L268.5,530.2L268.0,531.3L267.5,532.2L267.0,533.0L266.3,534.0L265.6,535.0L265.0,535.7L264.3,536.5L263.5,537.4L262.9,538.0L262.0,538.8L261.1,539.5L260.3,540.0L259.3,540.5L258.0,540.9L257.0,541.1L255.5,541.1L254.5,540.9L253.2,540.5L252.1,540.0L251.3,539.5L250.5,538.9L249.5,538.1L248.8,537.5L248.0,536.7L247.3,536.0L246.5,535.1L246.0,534.5L245.2,533.5L244.5,532.5L244.0,531.6L243.5,530.6L243.1,529.5L242.8,528.5L242.5,527.1L242.4,526.0L242.5,524.5L242.6,523.5L243.0,522.0L243.3,521.0L243.8,520.0L244.4,519.0L245.0,518.2L245.5,517.5L246.5,516.5L247.1,516.0L248.0,515.4L249.0,514.7L250.0,514.2L251.0,513.8L252.0,513.5L253.5,513.2L255.0,513.0Z" fill="none" stroke="#3c3c3c" stroke-width="0.55"/>
<path d="M254.8,515.5L255.5,515.5L256.5,515.5L257.0,515.5L258.0,515.6L259.0,515.9L259.5,516.0L260.5,516.4L261.0,516.6L261.7,517.0L262.4,517.5L263.0,517.9L263.5,518.4L264.0,518.8L264.5,519.4L264.9,520.0L265.3,520.5L265.6,521.0L266.0,521.9L266.2,522.5L266.5,523.5L266.6,524.0L266.7,525.0L266.7,526.0L266.7,527.0L266.5,527.8L266.3,528.5L266.0,529.5L265.8,530.0L265.5,530.6L265.0,531.5L264.7,532.0L264.3,532.5L264.0,533.0L263.5,533.6L263.0,534.2L262.5,534.8L262.0,535.4L261.5,535.9L261.0,536.3L260.5,536.7L260.0,537.1L259.4,537.5L258.5,538.0L258.0,538.1L257.0,538.4L256.0,538.4L255.0,538.3L254.0,538.0L253.5,537.8L252.9,537.5L252.2,537.0L251.5,536.5L251.0,536.1L250.5,535.7L250.0,535.2L249.5,534.7L249.0,534.2L248.5,533.6L248.0,533.0L247.6,532.5L247.2,532.0L246.9,531.5L246.5,530.8L246.1,530.0L245.8,529.5L245.5,528.6L245.3,528.0L245.1,527.0L245.1,526.0L245.1,525.0L245.2,524.0L245.4,523.0L245.6,522.5L246.0,521.5L246.2,521.0L246.5,520.5L247.0,519.8L247.5,519.2L248.0,518.6L248.5,518.2L249.0,517.8L249.5,517.4L250.1,517.0L251.0,516.5L251.5,516.3L252.4,516.0L253.0,515.8L254.0,515.6L254.8,515.5Z" fill="none" stroke="#3c3c3c" stroke-width="0.55"/>
<path d="M254.4,517.5L255.0,517.4L256.0,517.4L257.0,517.4L257.5,517.5L258.5,517.7L259.2,518.0L260.0,518.3L260.5,518.6L261.1,519.0L261.8,519.5L262.3,520.0L262.8,520.5L263.2,521.0L263.5,521.5L264.0,522.4L264.2,523.0L264.5,523.9L264.6,524.5L264.7,525.5L264.7,526.5L264.5,527.4L264.4,528.0L264.0,529.0L263.8,529.5L263.5,530.1L263.0,530.9L262.6,531.5L262.2,532.0L261.8,532.5L261.4,533.0L260.9,533.5L260.4,534.0L259.8,534.5L259.2,535.0L258.5,535.4L258.0,535.6L257.0,535.9L256.5,536.0L255.9,536.0L255.0,535.9L254.0,535.5L253.5,535.3L253.0,535.0L252.3,534.5L251.7,534.0L251.2,533.5L250.6,533.0L250.2,532.5L249.7,532.0L249.3,531.5L249.0,531.0L248.5,530.3L248.1,529.5L247.8,529.0L247.5,528.1L247.3,527.5L247.2,526.5L247.1,525.5L247.2,524.5L247.4,523.5L247.6,523.0L248.0,522.0L248.3,521.5L248.6,521.0L249.0,520.5L249.5,520.0L250.0,519.5L250.7,519.0L251.5,518.5L252.0,518.2L252.6,518.0L253.5,517.7L254.4,517.5Z" fill="none" stroke="#3c3c3c" stroke-width="0.55"/>
<path d="M253.9,519.5L254.0,519.5L254.5,519.3L255.0,519.3L255.5,519.2L256.0,519.2L256.5,519.2L257.0,519.3L257.5,519.4L257.9,519.5L258.0,519.5L258.5,519.7L259.0,519.9L259.2,520.0L259.5,520.2L260.0,520.5L260.0,520.5L260.5,520.9L260.6,521.0L261.0,521.3L261.1,521.5L261.5,521.9L261.5,522.0L261.9,522.5L262.0,522.7L262.1,523.0L262.4,523.5L262.5,523.9L262.5,524.0L262.6,524.5L262.7,525.0L262.8,525.5L262.8,526.0L262.7,526.5L262.6,527.0L262.5,527.5L262.5,527.6L262.4,528.0L262.2,528.5L262.0,528.9L261.9,529.0L261.7,529.5L261.5,529.8L261.3,530.0L261.0,530.5L261.0,530.5L260.6,531.0L260.5,531.1L260.1,531.5L260.0,531.6L259.6,532.0L259.5,532.1L259.0,532.5L259.0,532.5L258.5,532.8L258.2,533.0L258.0,533.1L257.5,533.3L257.0,533.4L256.7,533.5L256.5,533.5L256.0,533.5L255.5,533.5L255.5,533.5L255.0,533.4L254.5,533.2L254.0,533.0L254.0,533.0L253.5,532.8L253.1,532.5L253.0,532.4L252.5,532.1L252.4,532.0L252.0,531.6L251.9,531.5L251.5,531.1L251.4,531.0L251.0,530.6L250.9,530.5L250.5,530.0L250.5,529.9L250.2,529.5L250.0,529.1L249.9,529.0L249.7,528.5L249.5,528.1L249.5,528.0L249.3,527.5L249.2,527.0L249.1,526.5L249.1,526.0L249.0,525.5L249.1,525.0L249.2,524.5L249.3,524.0L249.4,523.5L249.5,523.4L249.7,523.0L249.9,522.5L250.0,522.4L250.3,522.0L250.5,521.7L250.7,521.5L251.0,521.1L251.2,521.0L251.5,520.7L251.8,520.5L252.0,520.4L252.5,520.1L252.6,520.0L253.0,519.8L253.5,519.6L253.9,519.5Z" fill="none" stroke="#3c3c3c" stroke-width="0.55"/>
<path d="M255.2,521.0L255.5,521.0L256.0,520.9L256.5,521.0L256.6,521.0L257.0,521.1L257.5,521.2L258.0,521.4L258.3,521.5L258.5,521.6L259.0,522.0L259.1,522.0L259.5,522.4L259.6,522.5L260.0,523.0L260.0,523.0L260.4,523.5L260.5,523.8L260.6,524.0L260.8,524.5L260.9,525.0L260.9,525.5L260.9,526.0L260.9,526.5L260.8,527.0L260.6,527.5L260.5,527.8L260.4,528.0L260.2,528.5L260.0,528.8L259.8,529.0L259.5,529.4L259.4,529.5L259.0,530.0L258.9,530.0L258.5,530.4L258.3,530.5L258.0,530.7L257.5,530.9L257.4,531.0L257.0,531.1L256.5,531.2L256.0,531.3L255.5,531.2L255.0,531.1L254.6,531.0L254.5,531.0L254.0,530.7L253.7,530.5L253.5,530.4L253.0,530.0L253.0,530.0L252.5,529.5L252.5,529.5L252.0,529.0L252.0,528.9L251.7,528.5L251.5,528.1L251.4,528.0L251.2,527.5L251.0,527.0L251.0,526.8L250.9,526.5L250.9,526.0L250.9,525.5L250.9,525.0L251.0,524.7L251.0,524.5L251.2,524.0L251.4,523.5L251.5,523.4L251.8,523.0L252.0,522.7L252.2,522.5L252.5,522.2L252.7,522.0L253.0,521.8L253.5,521.5L253.5,521.5L254.0,521.3L254.5,521.1L255.0,521.0L255.2,521.0Z" fill="none" stroke="#3c3c3c" stroke-width="0.55"/>
<path d="M254.3,523.5L254.5,523.4L255.0,523.1L255.5,523.0L256.0,523.0L256.5,523.1L257.0,523.2L257.5,523.5L257.5,523.5L258.0,523.9L258.1,524.0L258.5,524.5L258.5,524.6L258.7,525.0L258.8,525.5L258.8,526.0L258.7,526.5L258.5,527.0L258.5,527.1L258.3,527.5L258.0,527.8L257.8,528.0L257.5,528.3L257.2,528.5L257.0,528.6L256.5,528.7L256.0,528.8L255.5,528.8L255.0,528.6L254.7,528.5L254.5,528.4L254.0,528.0L254.0,528.0L253.6,527.5L253.5,527.4L253.3,527.0L253.1,526.5L253.0,526.0L253.0,525.5L253.2,525.0L253.4,524.5L253.5,524.3L253.7,524.0L254.0,523.7L254.3,523.5Z" fill="none" stroke="#3c3c3c" stroke-width="0.55"/>
<path d="M116.60,523.00L128.90,512.60L143.20,513.80L148.70,527.50L134.80,537.30L121.10,535.70L116.60,530.60Z" fill="none" stroke="#2a2a2a" stroke-width="1.0" stroke-linejoin="round"/>
<path d="M126.60,573.70L140.50,548.60L162.40,535.90L174.80,537.30L176.70,550.60L154.80,583.30L139.50,586.00Z" fill="none" stroke="#2a2a2a" stroke-width="1.0" stroke-linejoin="round"/>
<path d="M241.20,523.00L253.50,512.60L267.80,513.80L273.30,527.50L259.40,537.30L245.70,535.70L241.20,530.60Z" fill="none" stroke="#2a2a2a" stroke-width="1.0" stroke-linejoin="round"/>
<path d="M251.20,573.70L265.10,548.60L287.00,535.90L299.40,537.30L301.30,550.60L279.40,583.30L264.10,586.00Z" fill="none" stroke="#2a2a2a" stroke-width="1.0" stroke-linejoin="round"/>
<text x="199.9" y="502.0" font-size="17" text-anchor="end" textLength="23.0" lengthAdjust="spacingAndGlyphs" fill="#141414" stroke="#141414" stroke-width="0.3">ctrl</text>
<text x="323.8" y="502.0" font-size="17.3" text-anchor="end" textLength="33.0" lengthAdjust="spacingAndGlyphs" fill="#141414" stroke="#141414" stroke-width="0.3">LPS</text>
<rect x="91.60" y="609.40" width="1.4" height="3.9" fill="#111"/>
<rect x="108.80" y="609.40" width="1.4" height="3.9" fill="#111"/>
<rect x="93.93" y="609.40" width="1.38" height="2.6" fill="#111"/>
<rect x="96.27" y="609.40" width="1.64" height="2.9" fill="#111"/>
<rect x="98.60" y="609.40" width="3.20" height="2.7" fill="#111"/>
<rect x="99.81" y="609.40" width="1.04" height="3.5" fill="#111"/>
<rect x="102.75" y="609.40" width="1.64" height="2.9" fill="#111"/>
<rect x="105.17" y="609.40" width="1.82" height="2.6" fill="#111"/>
<rect x="107.77" y="609.40" width="0.86" height="3.1" fill="#111"/>
<line x1="141.50" y1="609.4" x2="141.50" y2="612.6" stroke="#333" stroke-width="1.0" stroke-linecap="butt"/>
<line x1="151.67" y1="609.4" x2="151.67" y2="611.1" stroke="#333" stroke-width="0.6" stroke-linecap="butt"/>
<line x1="157.63" y1="609.4" x2="157.63" y2="611.1" stroke="#333" stroke-width="0.6" stroke-linecap="butt"/>
<line x1="161.85" y1="609.4" x2="161.85" y2="611.1" stroke="#333" stroke-width="0.6" stroke-linecap="butt"/>
<line x1="165.13" y1="609.4" x2="165.13" y2="611.1" stroke="#333" stroke-width="0.6" stroke-linecap="butt"/>
<line x1="167.80" y1="609.4" x2="167.80" y2="611.1" stroke="#333" stroke-width="0.6" stroke-linecap="butt"/>
<line x1="170.06" y1="609.4" x2="170.06" y2="611.1" stroke="#333" stroke-width="0.6" stroke-linecap="butt"/>
<line x1="172.02" y1="609.4" x2="172.02" y2="611.1" stroke="#333" stroke-width="0.6" stroke-linecap="butt"/>
<line x1="173.75" y1="609.4" x2="173.75" y2="611.1" stroke="#333" stroke-width="0.6" stroke-linecap="butt"/>
<line x1="175.30" y1="609.4" x2="175.30" y2="612.6" stroke="#333" stroke-width="1.0" stroke-linecap="butt"/>
<line x1="185.47" y1="609.4" x2="185.47" y2="611.1" stroke="#333" stroke-width="0.6" stroke-linecap="butt"/>
<line x1="191.43" y1="609.4" x2="191.43" y2="611.1" stroke="#333" stroke-width="0.6" stroke-linecap="butt"/>
<line x1="195.65" y1="609.4" x2="195.65" y2="611.1" stroke="#333" stroke-width="0.6" stroke-linecap="butt"/>
<line x1="198.93" y1="609.4" x2="198.93" y2="611.1" stroke="#333" stroke-width="0.6" stroke-linecap="butt"/>
<line x1="201.60" y1="609.4" x2="201.60" y2="611.1" stroke="#333" stroke-width="0.6" stroke-linecap="butt"/>
<line x1="203.86" y1="609.4" x2="203.86" y2="611.1" stroke="#333" stroke-width="0.6" stroke-linecap="butt"/>
<line x1="85.60" y1="609.4" x2="85.60" y2="611.0" stroke="#333" stroke-width="0.5" stroke-linecap="butt"/>
<line x1="114.60" y1="609.4" x2="114.60" y2="611.0" stroke="#333" stroke-width="0.5" stroke-linecap="butt"/>
<line x1="120.60" y1="609.4" x2="120.60" y2="611.0" stroke="#333" stroke-width="0.5" stroke-linecap="butt"/>
<line x1="125.60" y1="609.4" x2="125.60" y2="611.0" stroke="#333" stroke-width="0.5" stroke-linecap="butt"/>
<line x1="129.60" y1="609.4" x2="129.60" y2="611.0" stroke="#333" stroke-width="0.5" stroke-linecap="butt"/>
<line x1="132.60" y1="609.4" x2="132.60" y2="611.0" stroke="#333" stroke-width="0.5" stroke-linecap="butt"/>
<line x1="135.60" y1="609.4" x2="135.60" y2="611.0" stroke="#333" stroke-width="0.5" stroke-linecap="butt"/>
<line x1="138.60" y1="609.4" x2="138.60" y2="611.0" stroke="#333" stroke-width="0.5" stroke-linecap="butt"/>
<rect x="216.40" y="609.40" width="1.4" height="3.9" fill="#111"/>
<rect x="233.60" y="609.40" width="1.4" height="3.9" fill="#111"/>
<rect x="218.73" y="609.40" width="1.38" height="2.6" fill="#111"/>
<rect x="221.07" y="609.40" width="1.64" height="2.9" fill="#111"/>
<rect x="223.40" y="609.40" width="3.20" height="2.7" fill="#111"/>
<rect x="224.61" y="609.40" width="1.04" height="3.5" fill="#111"/>
<rect x="227.55" y="609.40" width="1.64" height="2.9" fill="#111"/>
<rect x="229.98" y="609.40" width="1.82" height="2.6" fill="#111"/>
<rect x="232.57" y="609.40" width="0.86" height="3.1" fill="#111"/>
<line x1="266.30" y1="609.4" x2="266.30" y2="612.6" stroke="#333" stroke-width="1.0" stroke-linecap="butt"/>
<line x1="276.47" y1="609.4" x2="276.47" y2="611.1" stroke="#333" stroke-width="0.6" stroke-linecap="butt"/>
<line x1="282.43" y1="609.4" x2="282.43" y2="611.1" stroke="#333" stroke-width="0.6" stroke-linecap="butt"/>
<line x1="286.65" y1="609.4" x2="286.65" y2="611.1" stroke="#333" stroke-width="0.6" stroke-linecap="butt"/>
<line x1="289.93" y1="609.4" x2="289.93" y2="611.1" stroke="#333" stroke-width="0.6" stroke-linecap="butt"/>
<line x1="292.60" y1="609.4" x2="292.60" y2="611.1" stroke="#333" stroke-width="0.6" stroke-linecap="butt"/>
<line x1="294.86" y1="609.4" x2="294.86" y2="611.1" stroke="#333" stroke-width="0.6" stroke-linecap="butt"/>
<line x1="296.82" y1="609.4" x2="296.82" y2="611.1" stroke="#333" stroke-width="0.6" stroke-linecap="butt"/>
<line x1="298.55" y1="609.4" x2="298.55" y2="611.1" stroke="#333" stroke-width="0.6" stroke-linecap="butt"/>
<line x1="300.10" y1="609.4" x2="300.10" y2="612.6" stroke="#333" stroke-width="1.0" stroke-linecap="butt"/>
<line x1="310.27" y1="609.4" x2="310.27" y2="611.1" stroke="#333" stroke-width="0.6" stroke-linecap="butt"/>
<line x1="316.23" y1="609.4" x2="316.23" y2="611.1" stroke="#333" stroke-width="0.6" stroke-linecap="butt"/>
<line x1="320.45" y1="609.4" x2="320.45" y2="611.1" stroke="#333" stroke-width="0.6" stroke-linecap="butt"/>
<line x1="323.73" y1="609.4" x2="323.73" y2="611.1" stroke="#333" stroke-width="0.6" stroke-linecap="butt"/>
<line x1="326.40" y1="609.4" x2="326.40" y2="611.1" stroke="#333" stroke-width="0.6" stroke-linecap="butt"/>
<line x1="328.66" y1="609.4" x2="328.66" y2="611.1" stroke="#333" stroke-width="0.6" stroke-linecap="butt"/>
<line x1="210.40" y1="609.4" x2="210.40" y2="611.0" stroke="#333" stroke-width="0.5" stroke-linecap="butt"/>
<line x1="239.40" y1="609.4" x2="239.40" y2="611.0" stroke="#333" stroke-width="0.5" stroke-linecap="butt"/>
<line x1="245.40" y1="609.4" x2="245.40" y2="611.0" stroke="#333" stroke-width="0.5" stroke-linecap="butt"/>
<line x1="250.40" y1="609.4" x2="250.40" y2="611.0" stroke="#333" stroke-width="0.5" stroke-linecap="butt"/>
<line x1="254.40" y1="609.4" x2="254.40" y2="611.0" stroke="#333" stroke-width="0.5" stroke-linecap="butt"/>
<line x1="257.40" y1="609.4" x2="257.40" y2="611.0" stroke="#333" stroke-width="0.5" stroke-linecap="butt"/>
<line x1="260.40" y1="609.4" x2="260.40" y2="611.0" stroke="#333" stroke-width="0.5" stroke-linecap="butt"/>
<line x1="263.40" y1="609.4" x2="263.40" y2="611.0" stroke="#333" stroke-width="0.5" stroke-linecap="butt"/>
<rect x="76.80" y="580.00" width="3.4" height="1.3" fill="#111"/>
<rect x="76.80" y="596.10" width="3.4" height="1.3" fill="#111"/>
<rect x="78.10" y="582.22" width="2.1" height="1.30" fill="#111"/>
<rect x="77.80" y="584.41" width="2.4" height="1.54" fill="#111"/>
<rect x="78.00" y="586.59" width="2.2" height="3.00" fill="#111"/>
<rect x="76.60" y="587.73" width="3.6" height="1.30" fill="#111"/>
<rect x="77.80" y="590.48" width="2.4" height="1.54" fill="#111"/>
<rect x="78.10" y="592.75" width="2.1" height="1.70" fill="#111"/>
<rect x="77.60" y="595.18" width="2.6" height="0.81" fill="#111"/>
<line x1="80.19999999999999" y1="514.90" x2="76.99999999999999" y2="514.90" stroke="#333" stroke-width="1.0" stroke-linecap="butt"/>
<line x1="80.19999999999999" y1="504.88" x2="78.6" y2="504.88" stroke="#333" stroke-width="0.5" stroke-linecap="butt"/>
<line x1="80.19999999999999" y1="499.01" x2="78.6" y2="499.01" stroke="#333" stroke-width="0.5" stroke-linecap="butt"/>
<line x1="80.19999999999999" y1="494.85" x2="78.6" y2="494.85" stroke="#333" stroke-width="0.5" stroke-linecap="butt"/>
<line x1="80.19999999999999" y1="491.62" x2="78.6" y2="491.62" stroke="#333" stroke-width="0.5" stroke-linecap="butt"/>
<line x1="80.19999999999999" y1="488.99" x2="78.6" y2="488.99" stroke="#333" stroke-width="0.5" stroke-linecap="butt"/>
<line x1="80.19999999999999" y1="486.76" x2="78.6" y2="486.76" stroke="#333" stroke-width="0.5" stroke-linecap="butt"/>
<line x1="80.19999999999999" y1="548.60" x2="76.99999999999999" y2="548.60" stroke="#333" stroke-width="1.0" stroke-linecap="butt"/>
<line x1="80.19999999999999" y1="538.58" x2="78.6" y2="538.58" stroke="#333" stroke-width="0.5" stroke-linecap="butt"/>
<line x1="80.19999999999999" y1="532.71" x2="78.6" y2="532.71" stroke="#333" stroke-width="0.5" stroke-linecap="butt"/>
<line x1="80.19999999999999" y1="528.55" x2="78.6" y2="528.55" stroke="#333" stroke-width="0.5" stroke-linecap="butt"/>
<line x1="80.19999999999999" y1="525.32" x2="78.6" y2="525.32" stroke="#333" stroke-width="0.5" stroke-linecap="butt"/>
<line x1="80.19999999999999" y1="522.69" x2="78.6" y2="522.69" stroke="#333" stroke-width="0.5" stroke-linecap="butt"/>
<line x1="80.19999999999999" y1="520.46" x2="78.6" y2="520.46" stroke="#333" stroke-width="0.5" stroke-linecap="butt"/>
<line x1="80.19999999999999" y1="518.53" x2="78.6" y2="518.53" stroke="#333" stroke-width="0.5" stroke-linecap="butt"/>
<line x1="80.19999999999999" y1="516.82" x2="78.6" y2="516.82" stroke="#333" stroke-width="0.5" stroke-linecap="butt"/>
<line x1="80.19999999999999" y1="581.30" x2="76.99999999999999" y2="581.30" stroke="#333" stroke-width="1.0" stroke-linecap="butt"/>
<line x1="80.19999999999999" y1="571.28" x2="78.6" y2="571.28" stroke="#333" stroke-width="0.5" stroke-linecap="butt"/>
<line x1="80.19999999999999" y1="565.41" x2="78.6" y2="565.41" stroke="#333" stroke-width="0.5" stroke-linecap="butt"/>
<line x1="80.19999999999999" y1="561.25" x2="78.6" y2="561.25" stroke="#333" stroke-width="0.5" stroke-linecap="butt"/>
<line x1="80.19999999999999" y1="558.02" x2="78.6" y2="558.02" stroke="#333" stroke-width="0.5" stroke-linecap="butt"/>
<line x1="80.19999999999999" y1="555.39" x2="78.6" y2="555.39" stroke="#333" stroke-width="0.5" stroke-linecap="butt"/>
<line x1="80.19999999999999" y1="553.16" x2="78.6" y2="553.16" stroke="#333" stroke-width="0.5" stroke-linecap="butt"/>
<line x1="80.19999999999999" y1="551.23" x2="78.6" y2="551.23" stroke="#333" stroke-width="0.5" stroke-linecap="butt"/>
<line x1="80.19999999999999" y1="549.52" x2="78.6" y2="549.52" stroke="#333" stroke-width="0.5" stroke-linecap="butt"/>
<line x1="80.19999999999999" y1="601.00" x2="78.6" y2="601.00" stroke="#333" stroke-width="0.5" stroke-linecap="butt"/>
<line x1="80.19999999999999" y1="604.50" x2="78.6" y2="604.50" stroke="#333" stroke-width="0.5" stroke-linecap="butt"/>
<text transform="translate(73.2,541.0) rotate(-90)" font-size="17" textLength="52.4" lengthAdjust="spacingAndGlyphs" fill="#141414" stroke="#141414" stroke-width="0.3">CD11b</text>
<path d="M65.8,560 L65.8,622.4 L122,622.4" fill="none" stroke="#1a1a1a" stroke-width="1.6" stroke-linejoin="miter"/>
<path d="M65.8,547.5 L72.8,567.5 L65.8,562.5 L58.8,567.5 Z" fill="#1a1a1a"/>
<path d="M140.4,622.4 L117.9,615.9 L122.9,622.4 L117.9,628.9 Z" fill="#1a1a1a"/>
<text x="146.6" y="628.4" font-size="17.4" textLength="44.6" lengthAdjust="spacingAndGlyphs" fill="#141414" stroke="#141414" stroke-width="0.3">F4/80</text>
<line x1="98.05" y1="734.6" x2="188.2" y2="734.6" stroke="#484848" stroke-width="1.4" stroke-linecap="butt"/>
<line x1="98.7" y1="634.95" x2="98.7" y2="735.25" stroke="#484848" stroke-width="1.3" stroke-linecap="butt"/>
<line x1="95.5" y1="734.6" x2="98.7" y2="734.6" stroke="#484848" stroke-width="1.3" stroke-linecap="butt"/>
<text x="94.8" y="740.8000000000001" font-size="17.4" text-anchor="end" fill="#141414" stroke="#141414" stroke-width="0.3">0</text>
<line x1="96.5" y1="718.1" x2="98.7" y2="718.1" stroke="#484848" stroke-width="1.1" stroke-linecap="butt"/>
<line x1="95.5" y1="701.6" x2="98.7" y2="701.6" stroke="#484848" stroke-width="1.3" stroke-linecap="butt"/>
<text x="94.8" y="707.8000000000001" font-size="17.4" text-anchor="end" fill="#141414" stroke="#141414" stroke-width="0.3">20</text>
<line x1="96.5" y1="685.1" x2="98.7" y2="685.1" stroke="#484848" stroke-width="1.1" stroke-linecap="butt"/>
<line x1="95.5" y1="668.6" x2="98.7" y2="668.6" stroke="#484848" stroke-width="1.3" stroke-linecap="butt"/>
<text x="94.8" y="674.8000000000001" font-size="17.4" text-anchor="end" fill="#141414" stroke="#141414" stroke-width="0.3">40</text>
<line x1="96.5" y1="652.1" x2="98.7" y2="652.1" stroke="#484848" stroke-width="1.1" stroke-linecap="butt"/>
<line x1="95.5" y1="635.6" x2="98.7" y2="635.6" stroke="#484848" stroke-width="1.3" stroke-linecap="butt"/>
<text x="94.8" y="641.8000000000001" font-size="17.4" text-anchor="end" fill="#141414" stroke="#141414" stroke-width="0.3">60</text>
<line x1="120.5" y1="734.6" x2="120.5" y2="738.6" stroke="#484848" stroke-width="1.3" stroke-linecap="butt"/>
<line x1="157.4" y1="734.6" x2="157.4" y2="738.6" stroke="#484848" stroke-width="1.3" stroke-linecap="butt"/>
<rect x="105.3" y="732.5" width="31.3" height="2.6" fill="#000"/>
<rect x="143.0" y="731.6" width="30.8" height="3.5" fill="#000"/>
<line x1="117.9" y1="748.3" x2="123.9" y2="748.3" stroke="#141414" stroke-width="1.6" stroke-linecap="butt"/>
<text x="157.9" y="753.3" font-size="17.2" text-anchor="middle" textLength="31.4" lengthAdjust="spacingAndGlyphs" fill="#141414" stroke="#141414" stroke-width="0.3">LPS</text>
<line x1="108.5" y1="757.8" x2="173.3" y2="757.8" stroke="#222" stroke-width="1.3" stroke-linecap="butt"/>
<text x="112.5" y="776.9" font-size="17.3" textLength="43.400000000000006" lengthAdjust="spacingAndGlyphs" fill="#141414" stroke="#141414" stroke-width="0.3">F4/80</text>
<text x="156.70000000000002" y="772.5" font-size="10.3" textLength="9.4" lengthAdjust="spacingAndGlyphs" fill="#141414" stroke="#141414" stroke-width="0.1">HI</text>
<text transform="translate(67.2,735.8) rotate(-90)" font-size="16.8" textLength="39.5" lengthAdjust="spacingAndGlyphs" fill="#141414" stroke="#141414" stroke-width="0.3">IL-1β</text>
<text transform="translate(67.2,693.0) rotate(-90)" font-size="16.8" textLength="56.3" lengthAdjust="spacingAndGlyphs" fill="#141414" stroke="#141414" stroke-width="0.3">(pg/ml)</text>
<line x1="247.95" y1="735.0" x2="339.1" y2="735.0" stroke="#484848" stroke-width="1.4" stroke-linecap="butt"/>
<line x1="248.6" y1="634.95" x2="248.6" y2="735.65" stroke="#484848" stroke-width="1.3" stroke-linecap="butt"/>
<line x1="245.4" y1="735.0" x2="248.6" y2="735.0" stroke="#484848" stroke-width="1.3" stroke-linecap="butt"/>
<text x="244.2" y="741.2" font-size="17.4" text-anchor="end" fill="#141414" stroke="#141414" stroke-width="0.3">0</text>
<line x1="246.4" y1="718.4333333333334" x2="248.6" y2="718.4333333333334" stroke="#484848" stroke-width="1.1" stroke-linecap="butt"/>
<line x1="245.4" y1="701.8666666666667" x2="248.6" y2="701.8666666666667" stroke="#484848" stroke-width="1.3" stroke-linecap="butt"/>
<text x="244.2" y="708.0666666666667" font-size="17.4" text-anchor="end" fill="#141414" stroke="#141414" stroke-width="0.3">100</text>
<line x1="246.4" y1="685.3" x2="248.6" y2="685.3" stroke="#484848" stroke-width="1.1" stroke-linecap="butt"/>
<line x1="245.4" y1="668.7333333333333" x2="248.6" y2="668.7333333333333" stroke="#484848" stroke-width="1.3" stroke-linecap="butt"/>
<text x="244.2" y="674.9333333333334" font-size="17.4" text-anchor="end" fill="#141414" stroke="#141414" stroke-width="0.3">200</text>
<line x1="246.4" y1="652.1666666666667" x2="248.6" y2="652.1666666666667" stroke="#484848" stroke-width="1.1" stroke-linecap="butt"/>
<line x1="245.4" y1="635.6" x2="248.6" y2="635.6" stroke="#484848" stroke-width="1.3" stroke-linecap="butt"/>
<text x="244.2" y="641.8000000000001" font-size="17.4" text-anchor="end" fill="#141414" stroke="#141414" stroke-width="0.3">300</text>
<line x1="271.5" y1="735.0" x2="271.5" y2="739.0" stroke="#484848" stroke-width="1.3" stroke-linecap="butt"/>
<line x1="316.5" y1="735.0" x2="316.5" y2="739.0" stroke="#484848" stroke-width="1.3" stroke-linecap="butt"/>
<line x1="271.5" y1="705.6" x2="271.5" y2="697.1" stroke="#000" stroke-width="1.6" stroke-linecap="butt"/>
<line x1="267.5" y1="697.1" x2="275.5" y2="697.1" stroke="#000" stroke-width="1.75" stroke-linecap="round"/>
<rect x="256.85" y="706.25" width="29.30" height="28.75" fill="#8e8e8e" stroke="#000" stroke-width="1.3"/>
<line x1="316.45" y1="682.3" x2="316.45" y2="650.9" stroke="#000" stroke-width="1.6" stroke-linecap="butt"/>
<line x1="312.45" y1="650.9" x2="320.45" y2="650.9" stroke="#000" stroke-width="1.75" stroke-linecap="round"/>
<rect x="301.55" y="682.95" width="29.80" height="52.05" fill="#000" stroke="#000" stroke-width="1.3"/>
<line x1="268.7" y1="748.5" x2="274.7" y2="748.5" stroke="#141414" stroke-width="1.6" stroke-linecap="butt"/>
<text x="317.4" y="753.3" font-size="17.2" text-anchor="middle" textLength="31.2" lengthAdjust="spacingAndGlyphs" fill="#141414" stroke="#141414" stroke-width="0.3">LPS</text>
<line x1="254.9" y1="757.8" x2="332.0" y2="757.8" stroke="#222" stroke-width="1.3" stroke-linecap="butt"/>
<text x="267.0" y="777.0" font-size="17.3" textLength="43.7" lengthAdjust="spacingAndGlyphs" fill="#141414" stroke="#141414" stroke-width="0.3">F4/80</text>
<text x="311.5" y="772.6" font-size="10.3" textLength="9.4" lengthAdjust="spacingAndGlyphs" fill="#141414" stroke="#141414" stroke-width="0.1">HI</text>
<text transform="translate(210.2,721.8) rotate(-90)" font-size="16.8" textLength="26.8" lengthAdjust="spacingAndGlyphs" font-style="italic" fill="#141414" stroke="#141414" stroke-width="0.3">Il1b</text>
<text transform="translate(210.2,692.0) rotate(-90)" font-size="16.8" fill="#141414" stroke="#141414" stroke-width="0.3">(</text>
<text transform="translate(210.2,684.0) rotate(-90)" font-size="16.8" fill="#141414" stroke="#141414" stroke-width="0.3">2</text>
<text transform="translate(203.6,673.2) rotate(-90)" font-size="8.3" textLength="19.0" lengthAdjust="spacingAndGlyphs" fill="#141414" stroke="#141414" stroke-width="0.15">-ΔCt</text>
<text transform="translate(210.2,653.6) rotate(-90)" font-size="16.8" fill="#141414" stroke="#141414" stroke-width="0.3">)</text>
<rect x="403.2" y="475.1" width="123.5" height="122.9" fill="none" stroke="#a9a9a9" stroke-width="0.9"/>
<line x1="402.8" y1="481.30" x2="399.8" y2="481.30" stroke="#2a2a2a" stroke-width="1.0" stroke-linecap="butt"/>
<line x1="402.8" y1="485.95" x2="401.2" y2="485.95" stroke="#444" stroke-width="0.6" stroke-linecap="butt"/>
<line x1="402.8" y1="490.60" x2="401.2" y2="490.60" stroke="#444" stroke-width="0.6" stroke-linecap="butt"/>
<line x1="402.8" y1="495.25" x2="401.2" y2="495.25" stroke="#444" stroke-width="0.6" stroke-linecap="butt"/>
<line x1="402.8" y1="499.90" x2="401.2" y2="499.90" stroke="#444" stroke-width="0.6" stroke-linecap="butt"/>
<line x1="402.8" y1="504.55" x2="399.8" y2="504.55" stroke="#2a2a2a" stroke-width="1.0" stroke-linecap="butt"/>
<line x1="402.8" y1="509.20" x2="401.2" y2="509.20" stroke="#444" stroke-width="0.6" stroke-linecap="butt"/>
<line x1="402.8" y1="513.85" x2="401.2" y2="513.85" stroke="#444" stroke-width="0.6" stroke-linecap="butt"/>
<line x1="402.8" y1="518.50" x2="401.2" y2="518.50" stroke="#444" stroke-width="0.6" stroke-linecap="butt"/>
<line x1="402.8" y1="523.15" x2="401.2" y2="523.15" stroke="#444" stroke-width="0.6" stroke-linecap="butt"/>
<line x1="402.8" y1="527.80" x2="399.8" y2="527.80" stroke="#2a2a2a" stroke-width="1.0" stroke-linecap="butt"/>
<line x1="402.8" y1="532.45" x2="401.2" y2="532.45" stroke="#444" stroke-width="0.6" stroke-linecap="butt"/>
<line x1="402.8" y1="537.10" x2="401.2" y2="537.10" stroke="#444" stroke-width="0.6" stroke-linecap="butt"/>
<line x1="402.8" y1="541.75" x2="401.2" y2="541.75" stroke="#444" stroke-width="0.6" stroke-linecap="butt"/>
<line x1="402.8" y1="546.40" x2="401.2" y2="546.40" stroke="#444" stroke-width="0.6" stroke-linecap="butt"/>
<line x1="402.8" y1="551.05" x2="399.8" y2="551.05" stroke="#2a2a2a" stroke-width="1.0" stroke-linecap="butt"/>
<line x1="402.8" y1="555.70" x2="401.2" y2="555.70" stroke="#444" stroke-width="0.6" stroke-linecap="butt"/>
<line x1="402.8" y1="560.35" x2="401.2" y2="560.35" stroke="#444" stroke-width="0.6" stroke-linecap="butt"/>
<line x1="402.8" y1="565.00" x2="401.2" y2="565.00" stroke="#444" stroke-width="0.6" stroke-linecap="butt"/>
<line x1="402.8" y1="569.65" x2="401.2" y2="569.65" stroke="#444" stroke-width="0.6" stroke-linecap="butt"/>
<line x1="402.8" y1="574.30" x2="399.8" y2="574.30" stroke="#2a2a2a" stroke-width="1.0" stroke-linecap="butt"/>
<line x1="402.8" y1="578.95" x2="401.2" y2="578.95" stroke="#444" stroke-width="0.6" stroke-linecap="butt"/>
<line x1="402.8" y1="583.60" x2="401.2" y2="583.60" stroke="#444" stroke-width="0.6" stroke-linecap="butt"/>
<line x1="402.8" y1="588.25" x2="401.2" y2="588.25" stroke="#444" stroke-width="0.6" stroke-linecap="butt"/>
<line x1="402.8" y1="592.90" x2="401.2" y2="592.90" stroke="#444" stroke-width="0.6" stroke-linecap="butt"/>
<line x1="402.8" y1="476.65" x2="401.2" y2="476.65" stroke="#444" stroke-width="0.6" stroke-linecap="butt"/>
<rect x="413.90" y="598.40" width="1.4" height="3.9" fill="#111"/>
<rect x="428.30" y="598.40" width="1.4" height="3.9" fill="#111"/>
<rect x="415.95" y="598.40" width="1.16" height="2.6" fill="#111"/>
<rect x="417.91" y="598.40" width="1.38" height="2.9" fill="#111"/>
<rect x="419.87" y="598.40" width="2.68" height="2.7" fill="#111"/>
<rect x="420.88" y="598.40" width="0.87" height="3.5" fill="#111"/>
<rect x="423.35" y="598.40" width="1.38" height="2.9" fill="#111"/>
<rect x="425.38" y="598.40" width="1.52" height="2.6" fill="#111"/>
<rect x="427.55" y="598.40" width="0.72" height="3.1" fill="#111"/>
<line x1="457.70" y1="598.3" x2="457.70" y2="601.5" stroke="#333" stroke-width="1.0" stroke-linecap="butt"/>
<line x1="437.57" y1="598.3" x2="437.57" y2="600.0" stroke="#333" stroke-width="0.6" stroke-linecap="butt"/>
<line x1="442.64" y1="598.3" x2="442.64" y2="600.0" stroke="#333" stroke-width="0.6" stroke-linecap="butt"/>
<line x1="446.24" y1="598.3" x2="446.24" y2="600.0" stroke="#333" stroke-width="0.6" stroke-linecap="butt"/>
<line x1="449.03" y1="598.3" x2="449.03" y2="600.0" stroke="#333" stroke-width="0.6" stroke-linecap="butt"/>
<line x1="451.31" y1="598.3" x2="451.31" y2="600.0" stroke="#333" stroke-width="0.6" stroke-linecap="butt"/>
<line x1="453.24" y1="598.3" x2="453.24" y2="600.0" stroke="#333" stroke-width="0.6" stroke-linecap="butt"/>
<line x1="454.91" y1="598.3" x2="454.91" y2="600.0" stroke="#333" stroke-width="0.6" stroke-linecap="butt"/>
<line x1="456.38" y1="598.3" x2="456.38" y2="600.0" stroke="#333" stroke-width="0.6" stroke-linecap="butt"/>
<line x1="486.90" y1="598.3" x2="486.90" y2="601.5" stroke="#333" stroke-width="1.0" stroke-linecap="butt"/>
<line x1="466.77" y1="598.3" x2="466.77" y2="600.0" stroke="#333" stroke-width="0.6" stroke-linecap="butt"/>
<line x1="471.84" y1="598.3" x2="471.84" y2="600.0" stroke="#333" stroke-width="0.6" stroke-linecap="butt"/>
<line x1="475.44" y1="598.3" x2="475.44" y2="600.0" stroke="#333" stroke-width="0.6" stroke-linecap="butt"/>
<line x1="478.23" y1="598.3" x2="478.23" y2="600.0" stroke="#333" stroke-width="0.6" stroke-linecap="butt"/>
<line x1="480.51" y1="598.3" x2="480.51" y2="600.0" stroke="#333" stroke-width="0.6" stroke-linecap="butt"/>
<line x1="482.44" y1="598.3" x2="482.44" y2="600.0" stroke="#333" stroke-width="0.6" stroke-linecap="butt"/>
<line x1="484.11" y1="598.3" x2="484.11" y2="600.0" stroke="#333" stroke-width="0.6" stroke-linecap="butt"/>
<line x1="485.58" y1="598.3" x2="485.58" y2="600.0" stroke="#333" stroke-width="0.6" stroke-linecap="butt"/>
<line x1="515.30" y1="598.3" x2="515.30" y2="601.5" stroke="#333" stroke-width="1.0" stroke-linecap="butt"/>
<line x1="495.17" y1="598.3" x2="495.17" y2="600.0" stroke="#333" stroke-width="0.6" stroke-linecap="butt"/>
<line x1="500.24" y1="598.3" x2="500.24" y2="600.0" stroke="#333" stroke-width="0.6" stroke-linecap="butt"/>
<line x1="503.84" y1="598.3" x2="503.84" y2="600.0" stroke="#333" stroke-width="0.6" stroke-linecap="butt"/>
<line x1="506.63" y1="598.3" x2="506.63" y2="600.0" stroke="#333" stroke-width="0.6" stroke-linecap="butt"/>
<line x1="508.91" y1="598.3" x2="508.91" y2="600.0" stroke="#333" stroke-width="0.6" stroke-linecap="butt"/>
<line x1="510.84" y1="598.3" x2="510.84" y2="600.0" stroke="#333" stroke-width="0.6" stroke-linecap="butt"/>
<line x1="512.51" y1="598.3" x2="512.51" y2="600.0" stroke="#333" stroke-width="0.6" stroke-linecap="butt"/>
<line x1="513.98" y1="598.3" x2="513.98" y2="600.0" stroke="#333" stroke-width="0.6" stroke-linecap="butt"/>
<line x1="523.97" y1="598.3" x2="523.97" y2="599.8" stroke="#333" stroke-width="0.5" stroke-linecap="butt"/>
<line x1="408.50" y1="598.3" x2="408.50" y2="599.9" stroke="#333" stroke-width="0.5" stroke-linecap="butt"/>
<path d="M403.22,597.87C403.84,597.53 406.00,596.88 406.92,595.81C408.02,594.55 409.16,592.25 409.80,590.26C410.83,587.11 412.40,581.44 413.09,576.90C414.05,570.56 414.87,560.47 415.56,552.23C416.38,542.36 417.27,527.49 418.02,517.69C418.65,509.60 419.46,498.47 420.08,493.44C420.33,491.39 421.18,487.99 421.73,487.47C422.27,486.96 423.20,489.26 423.37,490.35C423.99,494.36 424.81,504.46 425.43,511.53C426.18,520.13 427.07,533.11 427.89,541.95C428.60,549.50 429.50,558.40 430.36,564.57C431.03,569.40 432.07,575.02 433.03,578.96C433.80,582.12 435.09,586.15 436.12,588.21C436.77,589.51 438.02,590.45 439.20,591.29C440.40,592.15 441.85,592.89 443.31,593.35C444.85,593.83 446.72,594.06 448.45,594.17C450.68,594.31 454.62,593.96 456.67,594.17C458.10,594.31 459.37,595.21 460.79,595.40C462.50,595.64 465.07,595.37 466.95,595.61C468.70,595.83 470.34,596.65 472.09,596.84C474.83,597.15 480.49,597.29 483.40,597.46C485.46,597.58 487.51,597.85 489.57,597.87C496.76,597.94 520.40,597.87 526.57,597.87" fill="none" stroke="#ff2a2a" stroke-width="1.1" stroke-linejoin="round"/>
<path d="M403.22,597.87C403.57,597.84 404.63,597.90 405.28,597.67C406.03,597.39 407.15,596.97 407.75,596.23C408.60,595.16 409.88,593.08 410.42,591.29C411.38,588.07 412.86,581.77 413.50,576.90C414.36,570.39 414.99,560.46 415.56,552.23C416.24,542.36 416.93,527.84 417.61,517.69C418.21,508.92 419.09,496.93 419.67,491.38C419.92,489.01 420.59,485.21 421.11,484.39C421.57,483.65 422.61,485.58 422.75,486.45C423.37,490.28 424.21,500.42 424.81,507.42C425.60,516.67 426.63,531.74 427.48,541.95C428.23,550.87 429.13,561.14 429.95,568.68C430.62,574.86 431.56,582.79 432.42,587.18C432.94,589.88 434.13,593.28 435.09,594.99C435.73,596.14 436.91,597.07 438.17,597.46C439.71,597.94 442.28,597.86 444.34,597.87C459.07,597.94 512.87,597.87 526.57,597.87" fill="none" stroke="#2c2cf2" stroke-width="1.1" stroke-linejoin="round"/>
<text x="467.0" y="493.0" font-size="17" textLength="44.0" lengthAdjust="spacingAndGlyphs" fill="#141414" stroke="#141414" stroke-width="0.3">F4/80</text>
<text x="511.8" y="488.4" font-size="10.5" textLength="10.0" lengthAdjust="spacingAndGlyphs" fill="#141414" stroke="#141414" stroke-width="0.1">HI</text>
<text x="428.7" y="505.0" font-size="16.8" textLength="23.0" lengthAdjust="spacingAndGlyphs" fill="#2f35a0" stroke="#2f35a0" stroke-width="0.3">ctrl</text>
<text x="445.4" y="588.2" font-size="17" textLength="33.4" lengthAdjust="spacingAndGlyphs" fill="#ee1c25" stroke="#ee1c25" stroke-width="0.3">LPS</text>
<rect x="534.3" y="475.1" width="123.8" height="123.1" fill="none" stroke="#a9a9a9" stroke-width="0.9"/>
<line x1="533.9" y1="481.30" x2="530.9" y2="481.30" stroke="#2a2a2a" stroke-width="1.0" stroke-linecap="butt"/>
<line x1="533.9" y1="485.95" x2="532.3" y2="485.95" stroke="#444" stroke-width="0.6" stroke-linecap="butt"/>
<line x1="533.9" y1="490.60" x2="532.3" y2="490.60" stroke="#444" stroke-width="0.6" stroke-linecap="butt"/>
<line x1="533.9" y1="495.25" x2="532.3" y2="495.25" stroke="#444" stroke-width="0.6" stroke-linecap="butt"/>
<line x1="533.9" y1="499.90" x2="532.3" y2="499.90" stroke="#444" stroke-width="0.6" stroke-linecap="butt"/>
<line x1="533.9" y1="504.55" x2="530.9" y2="504.55" stroke="#2a2a2a" stroke-width="1.0" stroke-linecap="butt"/>
<line x1="533.9" y1="509.20" x2="532.3" y2="509.20" stroke="#444" stroke-width="0.6" stroke-linecap="butt"/>
<line x1="533.9" y1="513.85" x2="532.3" y2="513.85" stroke="#444" stroke-width="0.6" stroke-linecap="butt"/>
<line x1="533.9" y1="518.50" x2="532.3" y2="518.50" stroke="#444" stroke-width="0.6" stroke-linecap="butt"/>
<line x1="533.9" y1="523.15" x2="532.3" y2="523.15" stroke="#444" stroke-width="0.6" stroke-linecap="butt"/>
<line x1="533.9" y1="527.80" x2="530.9" y2="527.80" stroke="#2a2a2a" stroke-width="1.0" stroke-linecap="butt"/>
<line x1="533.9" y1="532.45" x2="532.3" y2="532.45" stroke="#444" stroke-width="0.6" stroke-linecap="butt"/>
<line x1="533.9" y1="537.10" x2="532.3" y2="537.10" stroke="#444" stroke-width="0.6" stroke-linecap="butt"/>
<line x1="533.9" y1="541.75" x2="532.3" y2="541.75" stroke="#444" stroke-width="0.6" stroke-linecap="butt"/>
<line x1="533.9" y1="546.40" x2="532.3" y2="546.40" stroke="#444" stroke-width="0.6" stroke-linecap="butt"/>
<line x1="533.9" y1="551.05" x2="530.9" y2="551.05" stroke="#2a2a2a" stroke-width="1.0" stroke-linecap="butt"/>
<line x1="533.9" y1="555.70" x2="532.3" y2="555.70" stroke="#444" stroke-width="0.6" stroke-linecap="butt"/>
<line x1="533.9" y1="560.35" x2="532.3" y2="560.35" stroke="#444" stroke-width="0.6" stroke-linecap="butt"/>
<line x1="533.9" y1="565.00" x2="532.3" y2="565.00" stroke="#444" stroke-width="0.6" stroke-linecap="butt"/>
<line x1="533.9" y1="569.65" x2="532.3" y2="569.65" stroke="#444" stroke-width="0.6" stroke-linecap="butt"/>
<line x1="533.9" y1="574.30" x2="530.9" y2="574.30" stroke="#2a2a2a" stroke-width="1.0" stroke-linecap="butt"/>
<line x1="533.9" y1="578.95" x2="532.3" y2="578.95" stroke="#444" stroke-width="0.6" stroke-linecap="butt"/>
<line x1="533.9" y1="583.60" x2="532.3" y2="583.60" stroke="#444" stroke-width="0.6" stroke-linecap="butt"/>
<line x1="533.9" y1="588.25" x2="532.3" y2="588.25" stroke="#444" stroke-width="0.6" stroke-linecap="butt"/>
<line x1="533.9" y1="592.90" x2="532.3" y2="592.90" stroke="#444" stroke-width="0.6" stroke-linecap="butt"/>
<line x1="533.9" y1="476.65" x2="532.3" y2="476.65" stroke="#444" stroke-width="0.6" stroke-linecap="butt"/>
<rect x="545.00" y="598.60" width="1.4" height="3.9" fill="#111"/>
<rect x="559.40" y="598.60" width="1.4" height="3.9" fill="#111"/>
<rect x="547.05" y="598.60" width="1.16" height="2.6" fill="#111"/>
<rect x="549.01" y="598.60" width="1.38" height="2.9" fill="#111"/>
<rect x="550.96" y="598.60" width="2.68" height="2.7" fill="#111"/>
<rect x="551.98" y="598.60" width="0.87" height="3.5" fill="#111"/>
<rect x="554.44" y="598.60" width="1.38" height="2.9" fill="#111"/>
<rect x="556.47" y="598.60" width="1.52" height="2.6" fill="#111"/>
<rect x="558.65" y="598.60" width="0.72" height="3.1" fill="#111"/>
<line x1="588.80" y1="598.5" x2="588.80" y2="601.7" stroke="#333" stroke-width="1.0" stroke-linecap="butt"/>
<line x1="568.67" y1="598.5" x2="568.67" y2="600.2" stroke="#333" stroke-width="0.6" stroke-linecap="butt"/>
<line x1="573.74" y1="598.5" x2="573.74" y2="600.2" stroke="#333" stroke-width="0.6" stroke-linecap="butt"/>
<line x1="577.34" y1="598.5" x2="577.34" y2="600.2" stroke="#333" stroke-width="0.6" stroke-linecap="butt"/>
<line x1="580.13" y1="598.5" x2="580.13" y2="600.2" stroke="#333" stroke-width="0.6" stroke-linecap="butt"/>
<line x1="582.41" y1="598.5" x2="582.41" y2="600.2" stroke="#333" stroke-width="0.6" stroke-linecap="butt"/>
<line x1="584.34" y1="598.5" x2="584.34" y2="600.2" stroke="#333" stroke-width="0.6" stroke-linecap="butt"/>
<line x1="586.01" y1="598.5" x2="586.01" y2="600.2" stroke="#333" stroke-width="0.6" stroke-linecap="butt"/>
<line x1="587.48" y1="598.5" x2="587.48" y2="600.2" stroke="#333" stroke-width="0.6" stroke-linecap="butt"/>
<line x1="618.00" y1="598.5" x2="618.00" y2="601.7" stroke="#333" stroke-width="1.0" stroke-linecap="butt"/>
<line x1="597.87" y1="598.5" x2="597.87" y2="600.2" stroke="#333" stroke-width="0.6" stroke-linecap="butt"/>
<line x1="602.94" y1="598.5" x2="602.94" y2="600.2" stroke="#333" stroke-width="0.6" stroke-linecap="butt"/>
<line x1="606.54" y1="598.5" x2="606.54" y2="600.2" stroke="#333" stroke-width="0.6" stroke-linecap="butt"/>
<line x1="609.33" y1="598.5" x2="609.33" y2="600.2" stroke="#333" stroke-width="0.6" stroke-linecap="butt"/>
<line x1="611.61" y1="598.5" x2="611.61" y2="600.2" stroke="#333" stroke-width="0.6" stroke-linecap="butt"/>
<line x1="613.54" y1="598.5" x2="613.54" y2="600.2" stroke="#333" stroke-width="0.6" stroke-linecap="butt"/>
<line x1="615.21" y1="598.5" x2="615.21" y2="600.2" stroke="#333" stroke-width="0.6" stroke-linecap="butt"/>
<line x1="616.68" y1="598.5" x2="616.68" y2="600.2" stroke="#333" stroke-width="0.6" stroke-linecap="butt"/>
<line x1="646.40" y1="598.5" x2="646.40" y2="601.7" stroke="#333" stroke-width="1.0" stroke-linecap="butt"/>
<line x1="626.27" y1="598.5" x2="626.27" y2="600.2" stroke="#333" stroke-width="0.6" stroke-linecap="butt"/>
<line x1="631.34" y1="598.5" x2="631.34" y2="600.2" stroke="#333" stroke-width="0.6" stroke-linecap="butt"/>
<line x1="634.94" y1="598.5" x2="634.94" y2="600.2" stroke="#333" stroke-width="0.6" stroke-linecap="butt"/>
<line x1="637.73" y1="598.5" x2="637.73" y2="600.2" stroke="#333" stroke-width="0.6" stroke-linecap="butt"/>
<line x1="640.01" y1="598.5" x2="640.01" y2="600.2" stroke="#333" stroke-width="0.6" stroke-linecap="butt"/>
<line x1="641.94" y1="598.5" x2="641.94" y2="600.2" stroke="#333" stroke-width="0.6" stroke-linecap="butt"/>
<line x1="643.61" y1="598.5" x2="643.61" y2="600.2" stroke="#333" stroke-width="0.6" stroke-linecap="butt"/>
<line x1="645.08" y1="598.5" x2="645.08" y2="600.2" stroke="#333" stroke-width="0.6" stroke-linecap="butt"/>
<line x1="655.07" y1="598.5" x2="655.07" y2="600.0" stroke="#333" stroke-width="0.5" stroke-linecap="butt"/>
<line x1="539.60" y1="598.5" x2="539.60" y2="600.1" stroke="#333" stroke-width="0.5" stroke-linecap="butt"/>
<path d="M534.25,597.87C534.49,597.84 535.26,597.88 535.69,597.67C536.38,597.32 537.57,596.55 538.36,595.81C539.32,594.92 540.77,593.72 541.45,592.32C542.47,590.20 543.82,586.24 544.53,583.07C545.56,578.44 546.64,570.74 547.61,564.57C548.64,558.06 549.67,549.49 550.70,544.01C551.48,539.84 552.68,534.89 553.78,531.67C554.62,529.21 556.32,524.68 557.28,524.68C558.24,524.68 559.01,529.28 559.54,531.67C560.33,535.24 561.25,542.91 562.00,546.06C562.39,547.68 563.20,551.27 564.06,550.59C564.92,549.90 566.18,543.91 567.14,541.95C567.74,540.73 569.03,538.87 569.82,538.87C570.60,538.87 571.34,540.84 571.87,541.95C572.52,543.32 573.07,547.26 573.72,547.09C574.37,546.92 575.16,542.02 575.78,540.93C576.06,540.43 577.13,540.03 577.42,540.51C578.14,541.71 579.17,545.82 580.10,548.12C580.94,550.22 582.15,554.63 582.97,554.29C583.80,553.95 584.61,548.86 585.03,546.06C585.65,541.95 586.19,532.98 586.67,529.62C586.86,528.33 587.43,525.58 587.91,525.92C588.39,526.26 589.19,529.71 589.55,531.67C590.20,535.20 591.03,544.35 591.81,547.09C592.06,547.95 593.42,548.22 594.28,548.12C595.14,548.02 596.16,545.79 596.95,546.48C597.74,547.16 598.51,550.26 599.01,552.23C599.87,555.59 601.06,562.51 602.09,566.62C602.96,570.09 604.32,573.82 605.18,576.90C605.93,579.62 606.38,582.56 607.23,585.12C608.06,587.60 609.29,590.54 610.32,592.32C611.09,593.67 612.20,594.96 613.40,595.81C614.60,596.67 616.14,597.12 617.51,597.46C618.85,597.79 620.25,597.86 621.62,597.87C628.41,597.94 652.12,597.87 658.22,597.87" fill="none" stroke="#ff2a2a" stroke-width="1.1" stroke-linejoin="round"/>
<path d="M534.25,597.87C535.04,597.84 537.78,598.08 538.98,597.67C540.03,597.30 540.99,596.42 541.45,595.40C542.37,593.31 543.83,588.63 544.53,585.12C545.49,580.33 546.39,572.80 547.20,566.62C548.06,560.11 548.92,551.14 549.67,546.06C550.16,542.74 551.04,537.64 551.73,536.20C552.07,535.48 553.16,537.43 553.78,537.43C554.40,537.43 555.20,535.55 555.43,536.20C556.04,537.98 556.93,544.13 557.48,548.12C558.24,553.53 559.09,562.17 559.95,568.68C560.76,574.86 561.76,582.73 562.62,587.18C563.16,589.99 564.23,593.62 565.09,595.40C565.61,596.50 566.55,597.84 567.76,597.87C583.35,598.28 643.48,597.87 658.63,597.87" fill="none" stroke="#2c2cf2" stroke-width="1.1" stroke-linejoin="round"/>
<text x="588.3" y="494.7" font-size="17" textLength="53.400000000000006" lengthAdjust="spacingAndGlyphs" fill="#141414" stroke="#141414" stroke-width="0.3">CD11b</text>
<text x="642.4999999999999" y="490.09999999999997" font-size="10.5" textLength="10.0" lengthAdjust="spacingAndGlyphs" fill="#141414" stroke="#141414" stroke-width="0.1">HI</text>
<text x="537.5" y="519.3" font-size="16.8" textLength="23.0" lengthAdjust="spacingAndGlyphs" fill="#2f35a0" stroke="#2f35a0" stroke-width="0.3">ctrl</text>
<text x="606.6" y="577.9" font-size="17" textLength="33.4" lengthAdjust="spacingAndGlyphs" fill="#ee1c25" stroke="#ee1c25" stroke-width="0.3">LPS</text>
<rect x="403.2" y="630.6" width="123.6" height="122.7" fill="none" stroke="#a9a9a9" stroke-width="0.9"/>
<line x1="402.8" y1="636.80" x2="399.8" y2="636.80" stroke="#2a2a2a" stroke-width="1.0" stroke-linecap="butt"/>
<line x1="402.8" y1="641.45" x2="401.2" y2="641.45" stroke="#444" stroke-width="0.6" stroke-linecap="butt"/>
<line x1="402.8" y1="646.10" x2="401.2" y2="646.10" stroke="#444" stroke-width="0.6" stroke-linecap="butt"/>
<line x1="402.8" y1="650.75" x2="401.2" y2="650.75" stroke="#444" stroke-width="0.6" stroke-linecap="butt"/>
<line x1="402.8" y1="655.40" x2="401.2" y2="655.40" stroke="#444" stroke-width="0.6" stroke-linecap="butt"/>
<line x1="402.8" y1="660.05" x2="399.8" y2="660.05" stroke="#2a2a2a" stroke-width="1.0" stroke-linecap="butt"/>
<line x1="402.8" y1="664.70" x2="401.2" y2="664.70" stroke="#444" stroke-width="0.6" stroke-linecap="butt"/>
<line x1="402.8" y1="669.35" x2="401.2" y2="669.35" stroke="#444" stroke-width="0.6" stroke-linecap="butt"/>
<line x1="402.8" y1="674.00" x2="401.2" y2="674.00" stroke="#444" stroke-width="0.6" stroke-linecap="butt"/>
<line x1="402.8" y1="678.65" x2="401.2" y2="678.65" stroke="#444" stroke-width="0.6" stroke-linecap="butt"/>
<line x1="402.8" y1="683.30" x2="399.8" y2="683.30" stroke="#2a2a2a" stroke-width="1.0" stroke-linecap="butt"/>
<line x1="402.8" y1="687.95" x2="401.2" y2="687.95" stroke="#444" stroke-width="0.6" stroke-linecap="butt"/>
<line x1="402.8" y1="692.60" x2="401.2" y2="692.60" stroke="#444" stroke-width="0.6" stroke-linecap="butt"/>
<line x1="402.8" y1="697.25" x2="401.2" y2="697.25" stroke="#444" stroke-width="0.6" stroke-linecap="butt"/>
<line x1="402.8" y1="701.90" x2="401.2" y2="701.90" stroke="#444" stroke-width="0.6" stroke-linecap="butt"/>
<line x1="402.8" y1="706.55" x2="399.8" y2="706.55" stroke="#2a2a2a" stroke-width="1.0" stroke-linecap="butt"/>
<line x1="402.8" y1="711.20" x2="401.2" y2="711.20" stroke="#444" stroke-width="0.6" stroke-linecap="butt"/>
<line x1="402.8" y1="715.85" x2="401.2" y2="715.85" stroke="#444" stroke-width="0.6" stroke-linecap="butt"/>
<line x1="402.8" y1="720.50" x2="401.2" y2="720.50" stroke="#444" stroke-width="0.6" stroke-linecap="butt"/>
<line x1="402.8" y1="725.15" x2="401.2" y2="725.15" stroke="#444" stroke-width="0.6" stroke-linecap="butt"/>
<line x1="402.8" y1="729.80" x2="399.8" y2="729.80" stroke="#2a2a2a" stroke-width="1.0" stroke-linecap="butt"/>
<line x1="402.8" y1="734.45" x2="401.2" y2="734.45" stroke="#444" stroke-width="0.6" stroke-linecap="butt"/>
<line x1="402.8" y1="739.10" x2="401.2" y2="739.10" stroke="#444" stroke-width="0.6" stroke-linecap="butt"/>
<line x1="402.8" y1="743.75" x2="401.2" y2="743.75" stroke="#444" stroke-width="0.6" stroke-linecap="butt"/>
<line x1="402.8" y1="748.40" x2="401.2" y2="748.40" stroke="#444" stroke-width="0.6" stroke-linecap="butt"/>
<line x1="402.8" y1="632.15" x2="401.2" y2="632.15" stroke="#444" stroke-width="0.6" stroke-linecap="butt"/>
<rect x="413.90" y="753.70" width="1.4" height="3.9" fill="#111"/>
<rect x="428.30" y="753.70" width="1.4" height="3.9" fill="#111"/>
<rect x="415.95" y="753.70" width="1.16" height="2.6" fill="#111"/>
<rect x="417.91" y="753.70" width="1.38" height="2.9" fill="#111"/>
<rect x="419.87" y="753.70" width="2.68" height="2.7" fill="#111"/>
<rect x="420.88" y="753.70" width="0.87" height="3.5" fill="#111"/>
<rect x="423.35" y="753.70" width="1.38" height="2.9" fill="#111"/>
<rect x="425.38" y="753.70" width="1.52" height="2.6" fill="#111"/>
<rect x="427.55" y="753.70" width="0.72" height="3.1" fill="#111"/>
<line x1="457.70" y1="753.5999999999999" x2="457.70" y2="756.8" stroke="#333" stroke-width="1.0" stroke-linecap="butt"/>
<line x1="437.57" y1="753.5999999999999" x2="437.57" y2="755.3" stroke="#333" stroke-width="0.6" stroke-linecap="butt"/>
<line x1="442.64" y1="753.5999999999999" x2="442.64" y2="755.3" stroke="#333" stroke-width="0.6" stroke-linecap="butt"/>
<line x1="446.24" y1="753.5999999999999" x2="446.24" y2="755.3" stroke="#333" stroke-width="0.6" stroke-linecap="butt"/>
<line x1="449.03" y1="753.5999999999999" x2="449.03" y2="755.3" stroke="#333" stroke-width="0.6" stroke-linecap="butt"/>
<line x1="451.31" y1="753.5999999999999" x2="451.31" y2="755.3" stroke="#333" stroke-width="0.6" stroke-linecap="butt"/>
<line x1="453.24" y1="753.5999999999999" x2="453.24" y2="755.3" stroke="#333" stroke-width="0.6" stroke-linecap="butt"/>
<line x1="454.91" y1="753.5999999999999" x2="454.91" y2="755.3" stroke="#333" stroke-width="0.6" stroke-linecap="butt"/>
<line x1="456.38" y1="753.5999999999999" x2="456.38" y2="755.3" stroke="#333" stroke-width="0.6" stroke-linecap="butt"/>
<line x1="486.90" y1="753.5999999999999" x2="486.90" y2="756.8" stroke="#333" stroke-width="1.0" stroke-linecap="butt"/>
<line x1="466.77" y1="753.5999999999999" x2="466.77" y2="755.3" stroke="#333" stroke-width="0.6" stroke-linecap="butt"/>
<line x1="471.84" y1="753.5999999999999" x2="471.84" y2="755.3" stroke="#333" stroke-width="0.6" stroke-linecap="butt"/>
<line x1="475.44" y1="753.5999999999999" x2="475.44" y2="755.3" stroke="#333" stroke-width="0.6" stroke-linecap="butt"/>
<line x1="478.23" y1="753.5999999999999" x2="478.23" y2="755.3" stroke="#333" stroke-width="0.6" stroke-linecap="butt"/>
<line x1="480.51" y1="753.5999999999999" x2="480.51" y2="755.3" stroke="#333" stroke-width="0.6" stroke-linecap="butt"/>
<line x1="482.44" y1="753.5999999999999" x2="482.44" y2="755.3" stroke="#333" stroke-width="0.6" stroke-linecap="butt"/>
<line x1="484.11" y1="753.5999999999999" x2="484.11" y2="755.3" stroke="#333" stroke-width="0.6" stroke-linecap="butt"/>
<line x1="485.58" y1="753.5999999999999" x2="485.58" y2="755.3" stroke="#333" stroke-width="0.6" stroke-linecap="butt"/>
<line x1="515.30" y1="753.5999999999999" x2="515.30" y2="756.8" stroke="#333" stroke-width="1.0" stroke-linecap="butt"/>
<line x1="495.17" y1="753.5999999999999" x2="495.17" y2="755.3" stroke="#333" stroke-width="0.6" stroke-linecap="butt"/>
<line x1="500.24" y1="753.5999999999999" x2="500.24" y2="755.3" stroke="#333" stroke-width="0.6" stroke-linecap="butt"/>
<line x1="503.84" y1="753.5999999999999" x2="503.84" y2="755.3" stroke="#333" stroke-width="0.6" stroke-linecap="butt"/>
<line x1="506.63" y1="753.5999999999999" x2="506.63" y2="755.3" stroke="#333" stroke-width="0.6" stroke-linecap="butt"/>
<line x1="508.91" y1="753.5999999999999" x2="508.91" y2="755.3" stroke="#333" stroke-width="0.6" stroke-linecap="butt"/>
<line x1="510.84" y1="753.5999999999999" x2="510.84" y2="755.3" stroke="#333" stroke-width="0.6" stroke-linecap="butt"/>
<line x1="512.51" y1="753.5999999999999" x2="512.51" y2="755.3" stroke="#333" stroke-width="0.6" stroke-linecap="butt"/>
<line x1="513.98" y1="753.5999999999999" x2="513.98" y2="755.3" stroke="#333" stroke-width="0.6" stroke-linecap="butt"/>
<line x1="523.97" y1="753.5999999999999" x2="523.97" y2="755.0999999999999" stroke="#333" stroke-width="0.5" stroke-linecap="butt"/>
<line x1="408.50" y1="753.5999999999999" x2="408.50" y2="755.1999999999999" stroke="#333" stroke-width="0.5" stroke-linecap="butt"/>
<path d="M403.18,753.26C404.03,753.22 406.75,753.53 408.28,753.05C409.82,752.57 411.18,751.11 412.37,750.39C413.37,749.80 414.63,749.59 415.44,748.76C416.36,747.81 417.12,746.06 417.89,744.67C418.74,743.14 419.70,740.82 420.55,739.56C421.19,738.60 422.22,737.55 423.00,737.11C423.66,736.74 424.55,736.63 425.25,736.91C426.03,737.21 427.01,738.14 427.70,738.95C428.52,739.90 429.34,741.40 430.15,742.63C431.00,743.92 431.92,745.69 432.81,746.72C433.54,747.56 434.55,748.49 435.47,748.76C436.39,749.03 437.41,748.21 438.33,748.35C439.25,748.49 440.07,749.25 440.99,749.58C441.94,749.92 443.03,750.39 444.05,750.39C445.07,750.39 446.09,749.61 447.12,749.58C448.14,749.54 449.16,750.26 450.18,750.19C451.20,750.12 452.40,749.83 453.25,749.17C454.20,748.42 455.16,746.95 455.91,745.69C456.76,744.26 457.60,742.32 458.36,740.58C459.18,738.71 459.96,736.48 460.81,734.45C461.66,732.41 462.79,729.41 463.47,728.32C463.73,727.90 464.45,727.71 464.90,727.91C465.34,728.12 465.67,730.06 466.12,729.55C466.67,728.93 467.70,726.07 468.17,724.23C468.92,721.30 469.80,715.72 470.62,711.97C471.37,708.55 472.29,704.75 473.07,701.75C473.75,699.14 474.71,695.42 475.32,693.99C475.54,693.48 476.31,693.17 476.75,693.17C477.19,693.17 477.83,694.45 477.98,693.99C478.39,692.69 478.80,687.79 479.20,685.40C479.53,683.48 479.99,680.02 480.43,679.68C480.87,679.34 481.53,682.09 481.86,683.36C482.34,685.16 482.62,688.17 483.29,690.51C483.97,692.90 485.28,695.21 485.95,697.66C486.73,700.56 487.38,704.46 487.99,707.88C488.84,712.65 490.10,720.83 491.06,726.28C491.89,731.06 492.86,736.67 493.72,740.58C494.39,743.68 495.25,747.70 496.17,749.78C496.77,751.15 497.75,752.88 499.23,753.05C504.34,753.63 522.23,753.22 526.82,753.26" fill="none" stroke="#ff2a2a" stroke-width="1.1" stroke-linejoin="round"/>
<path d="M403.18,753.26C404.03,753.22 406.99,753.46 408.28,753.05C409.39,752.70 410.46,751.86 410.94,750.80C411.73,749.07 412.52,745.40 412.99,742.63C413.67,738.54 414.42,731.74 415.03,726.28C415.71,720.15 416.39,712.65 417.07,705.84C417.75,699.03 418.44,691.19 419.12,685.40C419.68,680.62 420.58,674.06 421.16,671.09C421.40,669.87 422.11,667.62 422.59,667.62C423.07,667.62 423.78,669.87 424.02,671.09C424.53,673.72 425.04,679.95 425.66,683.36C426.15,686.12 427.25,688.76 427.70,691.53C428.31,695.28 428.86,701.06 429.34,705.84C429.95,711.97 430.70,722.19 431.38,728.32C431.91,733.11 432.74,739.29 433.42,742.63C433.83,744.61 434.55,746.99 435.47,748.35C436.26,749.53 437.59,750.36 438.94,750.80C440.71,751.38 443.71,751.51 446.09,751.82C448.65,752.17 452.23,752.61 454.27,752.85C455.63,753.01 456.99,753.25 458.36,753.26C470.45,753.32 515.41,753.26 526.82,753.26" fill="none" stroke="#2c2cf2" stroke-width="1.1" stroke-linejoin="round"/>
<text x="467.6" y="647.6" font-size="17" textLength="44.0" lengthAdjust="spacingAndGlyphs" fill="#141414" stroke="#141414" stroke-width="0.3">F4/80</text>
<text x="512.4" y="643.0" font-size="10.5" textLength="10.0" lengthAdjust="spacingAndGlyphs" fill="#141414" stroke="#141414" stroke-width="0.1">HI</text>
<text x="429.5" y="689.0" font-size="16.8" textLength="23.0" lengthAdjust="spacingAndGlyphs" fill="#2f35a0" stroke="#2f35a0" stroke-width="0.3">ctrl</text>
<text x="490.9" y="709.9" font-size="17" textLength="33.4" lengthAdjust="spacingAndGlyphs" fill="#ee1c25" stroke="#ee1c25" stroke-width="0.3">LPS</text>
<rect x="534.2" y="630.6" width="123.7" height="122.7" fill="none" stroke="#a9a9a9" stroke-width="0.9"/>
<line x1="533.8000000000001" y1="636.80" x2="530.8000000000001" y2="636.80" stroke="#2a2a2a" stroke-width="1.0" stroke-linecap="butt"/>
<line x1="533.8000000000001" y1="641.45" x2="532.2" y2="641.45" stroke="#444" stroke-width="0.6" stroke-linecap="butt"/>
<line x1="533.8000000000001" y1="646.10" x2="532.2" y2="646.10" stroke="#444" stroke-width="0.6" stroke-linecap="butt"/>
<line x1="533.8000000000001" y1="650.75" x2="532.2" y2="650.75" stroke="#444" stroke-width="0.6" stroke-linecap="butt"/>
<line x1="533.8000000000001" y1="655.40" x2="532.2" y2="655.40" stroke="#444" stroke-width="0.6" stroke-linecap="butt"/>
<line x1="533.8000000000001" y1="660.05" x2="530.8000000000001" y2="660.05" stroke="#2a2a2a" stroke-width="1.0" stroke-linecap="butt"/>
<line x1="533.8000000000001" y1="664.70" x2="532.2" y2="664.70" stroke="#444" stroke-width="0.6" stroke-linecap="butt"/>
<line x1="533.8000000000001" y1="669.35" x2="532.2" y2="669.35" stroke="#444" stroke-width="0.6" stroke-linecap="butt"/>
<line x1="533.8000000000001" y1="674.00" x2="532.2" y2="674.00" stroke="#444" stroke-width="0.6" stroke-linecap="butt"/>
<line x1="533.8000000000001" y1="678.65" x2="532.2" y2="678.65" stroke="#444" stroke-width="0.6" stroke-linecap="butt"/>
<line x1="533.8000000000001" y1="683.30" x2="530.8000000000001" y2="683.30" stroke="#2a2a2a" stroke-width="1.0" stroke-linecap="butt"/>
<line x1="533.8000000000001" y1="687.95" x2="532.2" y2="687.95" stroke="#444" stroke-width="0.6" stroke-linecap="butt"/>
<line x1="533.8000000000001" y1="692.60" x2="532.2" y2="692.60" stroke="#444" stroke-width="0.6" stroke-linecap="butt"/>
<line x1="533.8000000000001" y1="697.25" x2="532.2" y2="697.25" stroke="#444" stroke-width="0.6" stroke-linecap="butt"/>
<line x1="533.8000000000001" y1="701.90" x2="532.2" y2="701.90" stroke="#444" stroke-width="0.6" stroke-linecap="butt"/>
<line x1="533.8000000000001" y1="706.55" x2="530.8000000000001" y2="706.55" stroke="#2a2a2a" stroke-width="1.0" stroke-linecap="butt"/>
<line x1="533.8000000000001" y1="711.20" x2="532.2" y2="711.20" stroke="#444" stroke-width="0.6" stroke-linecap="butt"/>
<line x1="533.8000000000001" y1="715.85" x2="532.2" y2="715.85" stroke="#444" stroke-width="0.6" stroke-linecap="butt"/>
<line x1="533.8000000000001" y1="720.50" x2="532.2" y2="720.50" stroke="#444" stroke-width="0.6" stroke-linecap="butt"/>
<line x1="533.8000000000001" y1="725.15" x2="532.2" y2="725.15" stroke="#444" stroke-width="0.6" stroke-linecap="butt"/>
<line x1="533.8000000000001" y1="729.80" x2="530.8000000000001" y2="729.80" stroke="#2a2a2a" stroke-width="1.0" stroke-linecap="butt"/>
<line x1="533.8000000000001" y1="734.45" x2="532.2" y2="734.45" stroke="#444" stroke-width="0.6" stroke-linecap="butt"/>
<line x1="533.8000000000001" y1="739.10" x2="532.2" y2="739.10" stroke="#444" stroke-width="0.6" stroke-linecap="butt"/>
<line x1="533.8000000000001" y1="743.75" x2="532.2" y2="743.75" stroke="#444" stroke-width="0.6" stroke-linecap="butt"/>
<line x1="533.8000000000001" y1="748.40" x2="532.2" y2="748.40" stroke="#444" stroke-width="0.6" stroke-linecap="butt"/>
<line x1="533.8000000000001" y1="632.15" x2="532.2" y2="632.15" stroke="#444" stroke-width="0.6" stroke-linecap="butt"/>
<rect x="544.90" y="753.70" width="1.4" height="3.9" fill="#111"/>
<rect x="559.30" y="753.70" width="1.4" height="3.9" fill="#111"/>
<rect x="546.95" y="753.70" width="1.16" height="2.6" fill="#111"/>
<rect x="548.91" y="753.70" width="1.38" height="2.9" fill="#111"/>
<rect x="550.87" y="753.70" width="2.68" height="2.7" fill="#111"/>
<rect x="551.88" y="753.70" width="0.87" height="3.5" fill="#111"/>
<rect x="554.35" y="753.70" width="1.38" height="2.9" fill="#111"/>
<rect x="556.38" y="753.70" width="1.52" height="2.6" fill="#111"/>
<rect x="558.55" y="753.70" width="0.72" height="3.1" fill="#111"/>
<line x1="588.70" y1="753.5999999999999" x2="588.70" y2="756.8" stroke="#333" stroke-width="1.0" stroke-linecap="butt"/>
<line x1="568.57" y1="753.5999999999999" x2="568.57" y2="755.3" stroke="#333" stroke-width="0.6" stroke-linecap="butt"/>
<line x1="573.64" y1="753.5999999999999" x2="573.64" y2="755.3" stroke="#333" stroke-width="0.6" stroke-linecap="butt"/>
<line x1="577.24" y1="753.5999999999999" x2="577.24" y2="755.3" stroke="#333" stroke-width="0.6" stroke-linecap="butt"/>
<line x1="580.03" y1="753.5999999999999" x2="580.03" y2="755.3" stroke="#333" stroke-width="0.6" stroke-linecap="butt"/>
<line x1="582.31" y1="753.5999999999999" x2="582.31" y2="755.3" stroke="#333" stroke-width="0.6" stroke-linecap="butt"/>
<line x1="584.24" y1="753.5999999999999" x2="584.24" y2="755.3" stroke="#333" stroke-width="0.6" stroke-linecap="butt"/>
<line x1="585.91" y1="753.5999999999999" x2="585.91" y2="755.3" stroke="#333" stroke-width="0.6" stroke-linecap="butt"/>
<line x1="587.38" y1="753.5999999999999" x2="587.38" y2="755.3" stroke="#333" stroke-width="0.6" stroke-linecap="butt"/>
<line x1="617.90" y1="753.5999999999999" x2="617.90" y2="756.8" stroke="#333" stroke-width="1.0" stroke-linecap="butt"/>
<line x1="597.77" y1="753.5999999999999" x2="597.77" y2="755.3" stroke="#333" stroke-width="0.6" stroke-linecap="butt"/>
<line x1="602.84" y1="753.5999999999999" x2="602.84" y2="755.3" stroke="#333" stroke-width="0.6" stroke-linecap="butt"/>
<line x1="606.44" y1="753.5999999999999" x2="606.44" y2="755.3" stroke="#333" stroke-width="0.6" stroke-linecap="butt"/>
<line x1="609.23" y1="753.5999999999999" x2="609.23" y2="755.3" stroke="#333" stroke-width="0.6" stroke-linecap="butt"/>
<line x1="611.51" y1="753.5999999999999" x2="611.51" y2="755.3" stroke="#333" stroke-width="0.6" stroke-linecap="butt"/>
<line x1="613.44" y1="753.5999999999999" x2="613.44" y2="755.3" stroke="#333" stroke-width="0.6" stroke-linecap="butt"/>
<line x1="615.11" y1="753.5999999999999" x2="615.11" y2="755.3" stroke="#333" stroke-width="0.6" stroke-linecap="butt"/>
<line x1="616.58" y1="753.5999999999999" x2="616.58" y2="755.3" stroke="#333" stroke-width="0.6" stroke-linecap="butt"/>
<line x1="646.30" y1="753.5999999999999" x2="646.30" y2="756.8" stroke="#333" stroke-width="1.0" stroke-linecap="butt"/>
<line x1="626.17" y1="753.5999999999999" x2="626.17" y2="755.3" stroke="#333" stroke-width="0.6" stroke-linecap="butt"/>
<line x1="631.24" y1="753.5999999999999" x2="631.24" y2="755.3" stroke="#333" stroke-width="0.6" stroke-linecap="butt"/>
<line x1="634.84" y1="753.5999999999999" x2="634.84" y2="755.3" stroke="#333" stroke-width="0.6" stroke-linecap="butt"/>
<line x1="637.63" y1="753.5999999999999" x2="637.63" y2="755.3" stroke="#333" stroke-width="0.6" stroke-linecap="butt"/>
<line x1="639.91" y1="753.5999999999999" x2="639.91" y2="755.3" stroke="#333" stroke-width="0.6" stroke-linecap="butt"/>
<line x1="641.84" y1="753.5999999999999" x2="641.84" y2="755.3" stroke="#333" stroke-width="0.6" stroke-linecap="butt"/>
<line x1="643.51" y1="753.5999999999999" x2="643.51" y2="755.3" stroke="#333" stroke-width="0.6" stroke-linecap="butt"/>
<line x1="644.98" y1="753.5999999999999" x2="644.98" y2="755.3" stroke="#333" stroke-width="0.6" stroke-linecap="butt"/>
<line x1="654.97" y1="753.5999999999999" x2="654.97" y2="755.0999999999999" stroke="#333" stroke-width="0.5" stroke-linecap="butt"/>
<line x1="539.50" y1="753.5999999999999" x2="539.50" y2="755.1999999999999" stroke="#333" stroke-width="0.5" stroke-linecap="butt"/>
<path d="M534.20,753.26C535.12,753.22 538.35,753.46 539.72,753.05C540.83,752.72 541.85,751.84 542.37,750.80C543.26,749.07 544.39,745.42 545.03,742.63C545.88,738.88 546.73,732.75 547.48,728.32C548.17,724.24 548.84,718.72 549.53,716.06C549.87,714.70 550.96,712.79 551.57,712.38C552.14,712.00 552.91,712.99 553.20,713.61C553.82,714.90 554.58,717.96 555.25,720.15C556.00,722.60 556.79,725.63 557.70,728.32C558.62,731.05 559.74,734.52 560.77,736.50C561.50,737.91 562.81,739.32 563.83,740.18C564.70,740.90 565.88,741.61 566.90,741.61C567.92,741.61 568.96,740.69 569.96,740.18C571.09,739.60 572.70,739.17 573.64,738.13C574.66,737.01 575.37,735.04 576.09,733.43C576.91,731.63 577.93,728.56 578.55,727.30C578.82,726.73 579.30,725.80 579.77,725.87C580.25,725.94 580.83,727.81 581.41,727.71C581.99,727.61 582.66,726.09 583.25,725.26C583.90,724.34 584.84,723.33 585.29,722.19C585.91,720.66 586.35,718.09 586.93,716.06C587.51,714.01 588.12,711.36 588.77,709.93C589.21,708.96 590.32,708.42 590.81,707.47C591.42,706.28 591.90,703.90 592.45,702.77C592.83,701.99 593.85,701.57 594.08,700.73C594.69,698.52 595.44,693.07 596.12,689.49C596.77,686.08 597.55,681.14 598.17,679.27C598.37,678.66 599.33,678.18 599.80,678.25C600.28,678.32 600.84,680.28 601.03,679.68C601.51,678.15 602.19,671.67 602.66,669.05C602.98,667.33 603.48,665.30 603.89,663.94C604.21,662.89 604.71,660.88 605.12,660.88C605.53,660.88 605.99,662.90 606.34,663.94C606.75,665.13 607.16,668.54 607.57,668.03C607.98,667.52 608.35,663.25 608.80,660.88C609.27,658.32 610.02,654.40 610.43,652.70C610.60,651.99 610.91,650.15 611.25,650.66C611.59,651.17 612.13,654.05 612.47,655.77C612.88,657.81 613.29,661.90 613.70,662.92C613.90,663.41 614.52,661.63 614.93,661.90C615.34,662.17 615.95,663.60 616.15,664.55C616.56,666.43 616.97,670.62 617.38,673.14C617.73,675.33 618.13,678.83 618.61,679.68C618.96,680.31 619.99,677.57 620.24,678.25C620.72,679.54 621.06,684.55 621.47,687.45C621.85,690.17 622.22,694.05 622.69,695.62C622.89,696.27 624.14,696.19 624.33,696.85C624.91,698.89 625.60,704.20 626.17,707.88C626.92,712.79 627.97,720.83 628.82,726.28C629.57,731.06 630.36,737.01 631.28,740.58C631.92,743.10 633.25,745.66 634.34,747.74C635.33,749.61 635.76,752.57 637.82,753.05C641.73,753.97 654.51,753.22 657.85,753.26" fill="none" stroke="#ff2a2a" stroke-width="1.1" stroke-linejoin="round"/>
<path d="M534.20,753.26C534.88,753.22 537.13,753.78 538.28,753.05C539.48,752.30 540.85,750.44 541.35,748.76C542.27,745.66 543.25,739.26 543.80,734.45C544.55,727.98 545.22,718.11 545.85,709.93C546.53,701.07 547.21,690.51 547.89,681.31C548.55,672.46 549.32,661.22 549.93,654.74C550.32,650.64 551.13,644.87 551.57,642.48C551.71,641.73 552.18,640.10 552.59,640.44C553.00,640.78 553.78,643.10 554.02,644.53C554.60,647.93 555.46,655.42 556.07,660.88C556.75,667.01 557.43,674.50 558.11,681.31C558.89,689.15 559.88,699.71 560.77,707.88C561.58,715.39 562.57,724.40 563.42,730.36C564.06,734.82 564.96,740.41 565.88,743.65C566.50,745.85 567.75,748.25 568.94,749.78C569.99,751.13 571.84,752.27 573.03,752.85C573.96,753.30 575.06,753.25 576.09,753.26C590.23,753.32 644.22,753.26 657.85,753.26" fill="none" stroke="#2c2cf2" stroke-width="1.1" stroke-linejoin="round"/>
<text x="589.4" y="648.2" font-size="17" textLength="53.400000000000006" lengthAdjust="spacingAndGlyphs" fill="#141414" stroke="#141414" stroke-width="0.3">CD11b</text>
<text x="643.5999999999999" y="643.6" font-size="10.5" textLength="10.0" lengthAdjust="spacingAndGlyphs" fill="#141414" stroke="#141414" stroke-width="0.1">HI</text>
<text x="559.0999999999999" y="674.2" font-size="16.8" textLength="23.0" lengthAdjust="spacingAndGlyphs" fill="#2f35a0" stroke="#2f35a0" stroke-width="0.3">ctrl</text>
<text x="622.1" y="686.4" font-size="17" textLength="33.4" lengthAdjust="spacingAndGlyphs" fill="#ee1c25" stroke="#ee1c25" stroke-width="0.3">LPS</text>
<line x1="403.2" y1="612.9" x2="461" y2="612.9" stroke="#1a1a1a" stroke-width="1.6" stroke-linecap="butt"/>
<path d="M479.4,612.9 L457.4,606.6999999999999 L462.4,612.9 L457.4,619.1 Z" fill="#1a1a1a"/>
<text x="483.9" y="618.4" font-size="16.8" textLength="71.4" lengthAdjust="spacingAndGlyphs" fill="#141414" stroke="#141414" stroke-width="0.3">pro-IL-1β</text>
<line x1="404.2" y1="769.6" x2="461" y2="769.6" stroke="#1a1a1a" stroke-width="1.6" stroke-linecap="butt"/>
<path d="M479.8,769.6 L457.8,763.4 L462.8,769.6 L457.8,775.8000000000001 Z" fill="#1a1a1a"/>
<text x="485.6" y="774.3" font-size="16.6" textLength="33.0" lengthAdjust="spacingAndGlyphs" fill="#141414" stroke="#141414" stroke-width="0.3">TNF</text>
</g>
</svg>
</body></html>
